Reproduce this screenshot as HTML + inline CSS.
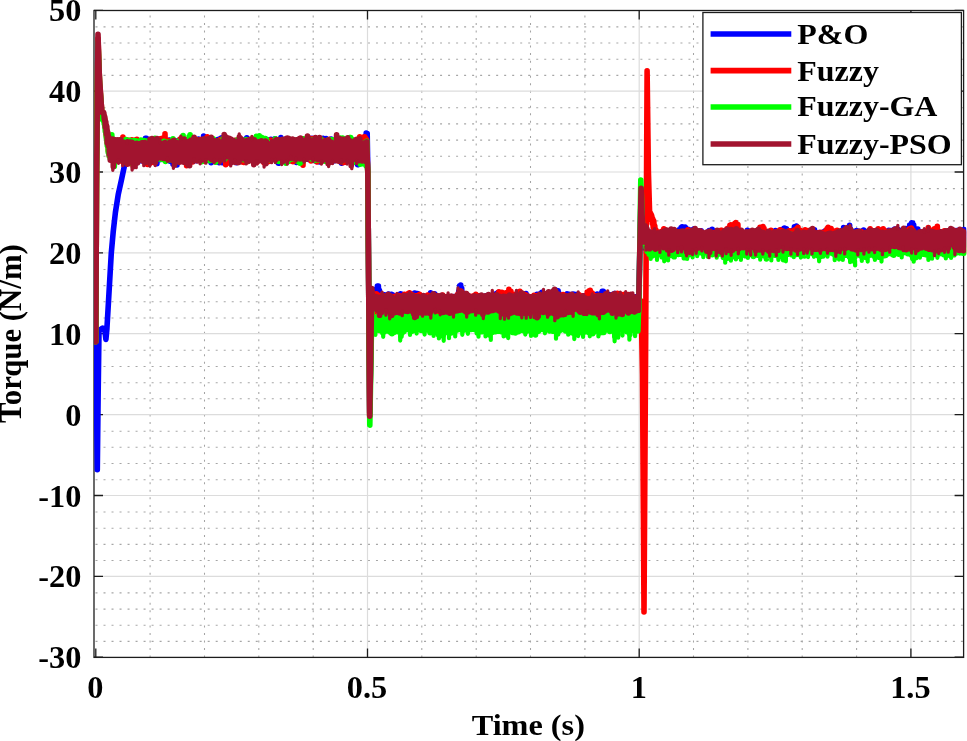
<!DOCTYPE html>
<html lang="en"><head><meta charset="utf-8"><title>Torque</title>
<style>html,body{margin:0;padding:0;background:#fff}svg{display:block}text{font-family:"Liberation Serif","Times New Roman",serif;font-weight:bold;font-size:29.7px;fill:#000}</style></head>
<body>
<svg width="967" height="741" viewBox="0 0 967 741">
<rect width="967" height="741" fill="#fff"/>
<g stroke="#a6a6a6" stroke-width="1.1" stroke-dasharray="2 6.013" fill="none">
<line x1="95.5" y1="641.4" x2="963.6" y2="641.4"/>
<line x1="95.5" y1="625.2" x2="963.6" y2="625.2"/>
<line x1="95.5" y1="609.1" x2="963.6" y2="609.1"/>
<line x1="95.5" y1="592.9" x2="963.6" y2="592.9"/>
<line x1="95.5" y1="560.5" x2="963.6" y2="560.5"/>
<line x1="95.5" y1="544.4" x2="963.6" y2="544.4"/>
<line x1="95.5" y1="528.2" x2="963.6" y2="528.2"/>
<line x1="95.5" y1="512.0" x2="963.6" y2="512.0"/>
<line x1="95.5" y1="479.7" x2="963.6" y2="479.7"/>
<line x1="95.5" y1="463.5" x2="963.6" y2="463.5"/>
<line x1="95.5" y1="447.3" x2="963.6" y2="447.3"/>
<line x1="95.5" y1="431.2" x2="963.6" y2="431.2"/>
<line x1="95.5" y1="398.8" x2="963.6" y2="398.8"/>
<line x1="95.5" y1="382.7" x2="963.6" y2="382.7"/>
<line x1="95.5" y1="366.5" x2="963.6" y2="366.5"/>
<line x1="95.5" y1="350.3" x2="963.6" y2="350.3"/>
<line x1="95.5" y1="318.0" x2="963.6" y2="318.0"/>
<line x1="95.5" y1="301.8" x2="963.6" y2="301.8"/>
<line x1="95.5" y1="285.6" x2="963.6" y2="285.6"/>
<line x1="95.5" y1="269.5" x2="963.6" y2="269.5"/>
<line x1="95.5" y1="237.1" x2="963.6" y2="237.1"/>
<line x1="95.5" y1="220.9" x2="963.6" y2="220.9"/>
<line x1="95.5" y1="204.8" x2="963.6" y2="204.8"/>
<line x1="95.5" y1="188.6" x2="963.6" y2="188.6"/>
<line x1="95.5" y1="156.2" x2="963.6" y2="156.2"/>
<line x1="95.5" y1="140.1" x2="963.6" y2="140.1"/>
<line x1="95.5" y1="123.9" x2="963.6" y2="123.9"/>
<line x1="95.5" y1="107.7" x2="963.6" y2="107.7"/>
<line x1="95.5" y1="75.4" x2="963.6" y2="75.4"/>
<line x1="95.5" y1="59.2" x2="963.6" y2="59.2"/>
<line x1="95.5" y1="43.0" x2="963.6" y2="43.0"/>
<line x1="95.5" y1="26.9" x2="963.6" y2="26.9"/>
</g>
<g stroke="#a4a4a4" stroke-width="1.05" stroke-dasharray="2 5.53" fill="none">
<line x1="150.1" y1="657.5" x2="150.1" y2="10.5"/>
<line x1="204.5" y1="657.5" x2="204.5" y2="10.5"/>
<line x1="258.8" y1="657.5" x2="258.8" y2="10.5"/>
<line x1="313.2" y1="657.5" x2="313.2" y2="10.5"/>
<line x1="421.8" y1="657.5" x2="421.8" y2="10.5"/>
<line x1="476.2" y1="657.5" x2="476.2" y2="10.5"/>
<line x1="530.5" y1="657.5" x2="530.5" y2="10.5"/>
<line x1="584.9" y1="657.5" x2="584.9" y2="10.5"/>
<line x1="693.5" y1="657.5" x2="693.5" y2="10.5"/>
<line x1="747.9" y1="657.5" x2="747.9" y2="10.5"/>
<line x1="802.2" y1="657.5" x2="802.2" y2="10.5"/>
<line x1="856.6" y1="657.5" x2="856.6" y2="10.5"/>
</g>
<g stroke="#dcdcdc" stroke-width="1.2" fill="none">
<line x1="94.0" y1="576.3" x2="963.6" y2="576.3"/>
<line x1="94.0" y1="495.5" x2="963.6" y2="495.5"/>
<line x1="94.0" y1="414.6" x2="963.6" y2="414.6"/>
<line x1="94.0" y1="333.7" x2="963.6" y2="333.7"/>
<line x1="94.0" y1="252.9" x2="963.6" y2="252.9"/>
<line x1="94.0" y1="172.0" x2="963.6" y2="172.0"/>
<line x1="94.0" y1="91.2" x2="963.6" y2="91.2"/>
<line x1="367.5" y1="10.5" x2="367.5" y2="657.4"/>
<line x1="639.2" y1="10.5" x2="639.2" y2="657.4"/>
<line x1="910.9" y1="10.5" x2="910.9" y2="657.4"/>
</g>
<g stroke="#1c1c1c" stroke-width="1.3" fill="none">
<rect x="94.0" y="10.5" width="869.6" height="646.9"/>
<path d="M95.8 657.4 v-9 M95.8 10.5 v9"/><path d="M367.5 657.4 v-9 M367.5 10.5 v9"/><path d="M639.2 657.4 v-9 M639.2 10.5 v9"/><path d="M910.9 657.4 v-9 M910.9 10.5 v9"/><path d="M94.0 657.2 h9 M963.6 657.2 h-9"/><path d="M94.0 576.3 h9 M963.6 576.3 h-9"/><path d="M94.0 495.5 h9 M963.6 495.5 h-9"/><path d="M94.0 414.6 h9 M963.6 414.6 h-9"/><path d="M94.0 333.7 h9 M963.6 333.7 h-9"/><path d="M94.0 252.9 h9 M963.6 252.9 h-9"/><path d="M94.0 172.0 h9 M963.6 172.0 h-9"/><path d="M94.0 91.2 h9 M963.6 91.2 h-9"/><path d="M94.0 10.3 h9 M963.6 10.3 h-9"/>
</g>
<clipPath id="c"><rect x="94.0" y="10.5" width="872.4" height="646.9"/></clipPath>
<g clip-path="url(#c)" fill="none" stroke-width="5.6" stroke-linejoin="round" stroke-linecap="round">
<polyline stroke="#0000ff" points="95.8,341.8 96.5,398.4 97.3,469.6 98.1,398.4 99.0,330.5 102.6,328.1 104.8,329.7 105.9,339.4 106.9,328.9 108.5,301.4 111.3,252.9 113.2,231.9 115.4,212.5 118.2,194.7 121.4,180.1 125.0,163.1 127.3,154.2 127.3,141.0 127.8,155.7 128.3,142.1 128.8,156.3 129.3,140.8 129.8,155.9 130.3,141.2 130.8,160.0 131.3,141.4 131.8,155.1 132.3,142.8 132.8,158.7 133.3,145.8 133.8,159.1 134.3,145.6 134.8,162.6 135.3,147.1 135.8,163.3 136.4,145.4 136.9,158.7 137.4,146.5 137.9,161.8 138.4,147.6 138.9,160.8 139.4,144.9 139.9,159.5 140.4,144.6 140.9,159.9 141.4,144.9 141.9,160.8 142.4,141.6 142.9,153.7 143.4,143.8 143.9,152.9 144.4,141.8 144.9,150.6 145.4,138.2 145.9,153.1 146.4,138.2 146.9,154.7 147.4,141.6 147.9,156.4 148.4,139.3 148.9,154.2 149.4,140.3 149.9,157.5 150.4,142.3 150.9,160.4 151.4,144.4 151.9,160.9 152.4,142.3 152.9,158.6 153.4,140.5 153.9,161.3 154.4,142.0 154.9,158.1 155.4,143.2 155.9,157.3 156.4,141.4 156.9,163.7 157.4,141.4 157.9,159.1 158.4,145.9 158.9,160.0 159.4,143.7 159.9,159.0 160.4,144.2 160.9,159.4 161.4,139.7 161.9,155.3 162.5,140.5 163.0,155.0 163.5,140.3 164.0,156.5 164.5,139.9 165.0,156.8 165.5,140.4 166.0,159.8 166.5,141.2 167.0,157.0 167.5,141.1 168.0,158.2 168.5,142.5 169.0,160.2 169.5,140.1 170.0,161.2 170.5,141.6 171.0,158.4 171.5,141.0 172.0,159.8 172.5,141.5 173.0,164.1 173.5,144.4 174.0,157.6 174.5,142.6 175.0,158.0 175.5,140.7 176.0,161.1 176.5,141.2 177.0,165.0 177.5,141.5 178.0,159.6 178.5,141.6 179.0,158.6 179.5,139.8 180.0,158.8 180.5,140.4 181.0,159.6 181.5,140.7 182.0,159.3 182.5,140.4 183.0,160.5 183.5,142.5 184.0,161.5 184.5,140.2 185.0,160.1 185.5,143.7 186.0,160.4 186.5,144.1 187.0,159.8 187.5,142.7 188.0,160.0 188.5,143.4 189.1,157.8 189.6,141.3 190.1,155.7 190.6,141.9 191.1,158.9 191.6,139.9 192.1,155.3 192.6,139.8 193.1,159.0 193.6,143.2 194.1,159.8 194.6,140.4 195.1,160.1 195.6,142.7 196.1,160.6 196.6,141.8 197.1,157.3 197.6,139.8 198.1,155.1 198.6,139.0 199.1,157.9 199.6,140.3 200.1,158.4 200.6,140.8 201.1,158.4 201.6,139.5 202.1,155.8 202.6,140.4 203.1,153.0 203.6,136.1 204.1,155.9 204.6,138.5 205.1,158.1 205.6,139.7 206.1,158.2 206.6,142.2 207.1,157.6 207.6,143.4 208.1,160.3 208.6,141.7 209.1,158.3 209.6,142.0 210.1,158.7 210.6,144.5 211.1,162.7 211.6,143.1 212.1,159.3 212.6,142.8 213.1,158.7 213.6,143.7 214.1,159.6 214.6,145.0 215.2,158.8 215.7,142.4 216.2,161.7 216.7,141.6 217.2,160.9 217.7,139.6 218.2,160.0 218.7,139.5 219.2,162.7 219.7,142.6 220.2,160.4 220.7,138.3 221.2,160.4 221.7,137.9 222.2,162.7 222.7,137.5 223.2,162.6 223.7,139.2 224.2,160.3 224.7,142.9 225.2,160.7 225.7,138.9 226.2,158.2 226.7,138.3 227.2,158.0 227.7,144.8 228.2,157.1 228.7,145.5 229.2,159.6 229.7,145.4 230.2,160.0 230.7,145.9 231.2,156.6 231.7,146.5 232.2,156.7 232.7,142.3 233.2,155.4 233.7,145.9 234.2,157.3 234.7,144.7 235.2,154.6 235.7,147.1 236.2,162.7 236.7,144.7 237.2,159.5 237.7,145.6 238.2,157.5 238.7,148.2 239.2,157.9 239.7,146.9 240.2,159.2 240.7,141.5 241.2,159.7 241.8,140.0 242.3,157.1 242.8,140.5 243.3,155.8 243.8,141.6 244.3,158.9 244.8,141.3 245.3,153.3 245.8,139.3 246.3,156.5 246.8,137.8 247.3,155.9 247.8,139.6 248.3,159.0 248.8,144.5 249.3,158.6 249.8,147.2 250.3,159.3 250.8,143.3 251.3,159.8 251.8,143.3 252.3,159.5 252.8,140.8 253.3,157.8 253.8,143.7 254.3,159.7 254.8,143.6 255.3,157.5 255.8,140.9 256.3,155.4 256.8,141.5 257.3,159.6 257.8,141.4 258.3,156.3 258.8,142.4 259.3,157.2 259.8,143.2 260.3,157.5 260.8,140.1 261.3,155.8 261.8,142.3 262.3,156.5 262.8,144.3 263.3,156.7 263.8,144.0 264.3,156.0 264.8,141.2 265.3,153.1 265.8,139.5 266.3,154.7 266.8,139.5 267.3,158.2 267.9,140.9 268.4,156.0 268.9,142.5 269.4,157.3 269.9,142.3 270.4,158.9 270.9,139.2 271.4,158.2 271.9,142.4 272.4,158.2 272.9,141.9 273.4,159.1 273.9,143.5 274.4,158.8 274.9,138.9 275.4,159.0 275.9,140.7 276.4,158.3 276.9,142.6 277.4,160.1 277.9,140.8 278.4,163.3 278.9,145.4 279.4,162.0 279.9,143.7 280.4,160.1 280.9,137.5 281.4,157.1 281.9,142.0 282.4,158.7 282.9,142.7 283.4,156.2 283.9,143.1 284.4,158.2 284.9,142.9 285.4,159.9 285.9,140.1 286.4,159.2 286.9,142.2 287.4,155.5 287.9,142.6 288.4,160.1 288.9,144.8 289.4,159.0 289.9,145.5 290.4,158.3 290.9,144.6 291.4,159.0 291.9,144.3 292.4,157.9 292.9,142.9 293.4,158.3 294.0,140.9 294.5,160.6 295.0,141.1 295.5,161.6 296.0,142.9 296.5,162.4 297.0,148.3 297.5,161.4 298.0,146.1 298.5,159.3 299.0,140.9 299.5,159.3 300.0,142.4 300.5,158.1 301.0,141.3 301.5,154.8 302.0,140.6 302.5,157.5 303.0,141.0 303.5,160.8 304.0,140.9 304.5,157.3 305.0,140.8 305.5,157.6 306.0,139.6 306.5,154.8 307.0,142.2 307.5,156.9 308.0,146.2 308.5,159.4 309.0,143.1 309.5,158.9 310.0,140.3 310.5,158.6 311.0,141.3 311.5,159.0 312.0,138.4 312.5,155.5 313.0,139.2 313.5,159.0 314.0,141.9 314.5,157.9 315.0,143.0 315.5,161.0 316.0,141.7 316.5,161.5 317.0,139.4 317.5,160.5 318.0,141.1 318.5,159.7 319.0,142.2 319.5,162.0 320.0,145.7 320.6,160.9 321.1,145.0 321.6,157.7 322.1,142.6 322.6,158.1 323.1,138.3 323.6,160.2 324.1,140.0 324.6,159.2 325.1,140.1 325.6,152.5 326.1,138.6 326.6,155.2 327.1,139.9 327.6,156.7 328.1,144.4 328.6,158.9 329.1,140.5 329.6,157.8 330.1,140.6 330.6,156.4 331.1,139.1 331.6,159.4 332.1,143.1 332.6,161.3 333.1,141.3 333.6,157.4 334.1,141.8 334.6,160.7 335.1,142.4 335.6,157.8 336.1,144.7 336.6,158.7 337.1,141.7 337.6,159.8 338.1,142.0 338.6,159.5 339.1,146.6 339.6,160.4 340.1,143.0 340.6,160.1 341.1,144.4 341.6,163.1 342.1,144.2 342.6,160.2 343.1,143.0 343.6,159.9 344.1,142.0 344.6,158.1 345.1,146.2 345.6,158.5 346.1,141.1 346.7,157.0 347.2,143.4 347.7,159.3 348.2,140.5 348.7,157.5 349.2,141.7 349.7,159.4 350.2,139.8 350.7,159.2 351.2,141.2 351.7,157.1 352.2,140.8 352.7,159.7 353.2,140.3 353.7,157.1 354.2,144.1 354.7,162.5 355.2,142.7 355.7,161.2 356.2,143.1 356.7,159.3 357.2,142.3 357.7,164.8 358.2,146.3 358.7,156.9 359.2,145.0 359.7,158.1 360.2,140.9 360.7,158.7 361.2,141.5 361.7,157.8 362.2,142.9 362.7,160.3 363.2,143.0 363.7,161.2 364.2,139.4 364.7,155.7 365.2,136.3 365.7,155.7 366.2,133.1 366.7,152.3 367.2,133.6 367.8,172.0 369.7,413.0 371.8,293.3 372.4,298.7 372.9,310.8 373.4,295.9 373.9,309.8 374.4,294.9 374.9,308.4 375.4,292.2 375.9,307.7 376.4,288.8 376.9,305.1 377.4,286.0 377.9,303.8 378.4,286.0 378.9,305.6 379.4,290.2 379.9,308.0 380.4,293.6 380.9,310.3 381.4,295.4 381.9,310.4 382.4,295.8 382.9,310.3 383.4,296.8 383.9,311.3 384.4,294.8 384.9,308.4 385.4,295.6 385.9,311.8 386.4,296.4 386.9,312.7 387.4,294.8 387.9,309.2 388.5,294.0 389.0,311.3 389.5,296.3 390.0,311.1 390.5,296.6 391.0,311.0 391.5,294.2 392.0,310.4 392.5,294.8 393.0,310.2 393.5,297.9 394.0,311.2 394.5,298.5 395.0,312.4 395.5,297.8 396.0,313.7 396.5,296.6 397.0,312.0 397.5,296.0 398.0,312.9 398.5,297.1 399.0,311.2 399.5,295.3 400.0,311.7 400.5,293.8 401.0,312.1 401.5,294.1 402.0,311.2 402.5,295.9 403.0,311.5 403.5,296.3 404.0,312.3 404.5,297.2 405.0,312.3 405.5,295.7 406.0,311.1 406.5,297.5 407.0,311.1 407.5,298.6 408.0,314.7 408.5,297.4 409.0,313.5 409.5,294.7 410.0,313.1 410.5,294.4 411.0,310.2 411.5,295.2 412.0,308.7 412.5,294.1 413.0,306.6 413.5,293.9 414.0,307.5 414.5,293.1 415.1,307.5 415.6,293.3 416.1,307.8 416.6,293.9 417.1,312.9 417.6,293.6 418.1,308.1 418.6,295.7 419.1,306.1 419.6,296.3 420.1,308.5 420.6,295.6 421.1,309.8 421.6,298.1 422.1,308.1 422.6,295.9 423.1,312.1 423.6,296.5 424.1,306.5 424.6,297.2 425.1,311.0 425.6,297.0 426.1,308.2 426.6,296.4 427.1,308.6 427.6,296.9 428.1,310.2 428.6,295.6 429.1,308.7 429.6,294.8 430.1,310.0 430.6,292.8 431.1,311.2 431.6,294.2 432.1,310.8 432.6,294.8 433.1,307.8 433.6,296.0 434.1,307.0 434.6,293.8 435.1,308.4 435.6,295.7 436.1,306.2 436.6,297.3 437.1,307.3 437.6,296.5 438.1,308.8 438.6,297.3 439.1,306.9 439.6,296.2 440.1,310.2 440.6,298.3 441.1,310.3 441.6,297.7 442.2,310.9 442.7,300.8 443.2,311.0 443.7,300.5 444.2,311.5 444.7,297.6 445.2,309.3 445.7,298.6 446.2,311.7 446.7,299.0 447.2,310.6 447.7,298.6 448.2,308.6 448.7,301.3 449.2,309.0 449.7,300.1 450.2,309.5 450.7,297.4 451.2,312.5 451.7,297.3 452.2,312.4 452.7,297.4 453.2,313.8 453.7,296.5 454.2,310.6 454.7,298.5 455.2,310.4 455.7,298.2 456.2,310.3 456.7,296.7 457.2,309.6 457.7,297.2 458.2,306.8 458.7,291.4 459.2,303.8 459.7,285.7 460.2,302.6 460.7,285.0 461.2,301.0 461.7,288.4 462.2,302.5 462.7,294.2 463.2,306.0 463.7,296.6 464.2,310.2 464.7,297.1 465.2,309.3 465.7,297.4 466.2,309.3 466.7,300.3 467.2,309.5 467.7,298.4 468.2,313.5 468.8,298.6 469.3,313.2 469.8,298.0 470.3,313.6 470.8,297.3 471.3,311.0 471.8,297.5 472.3,312.1 472.8,298.1 473.3,314.3 473.8,298.0 474.3,313.5 474.8,298.0 475.3,312.5 475.8,298.1 476.3,309.1 476.8,299.5 477.3,312.6 477.8,298.5 478.3,313.8 478.8,300.4 479.3,312.8 479.8,299.1 480.3,312.4 480.8,298.7 481.3,312.6 481.8,298.6 482.3,310.9 482.8,301.0 483.3,308.0 483.8,298.3 484.3,309.9 484.8,298.8 485.3,311.1 485.8,295.8 486.3,310.5 486.8,295.5 487.3,309.7 487.8,295.9 488.3,308.3 488.8,297.9 489.3,309.9 489.8,298.3 490.3,311.3 490.8,297.3 491.3,312.2 491.8,298.8 492.3,310.9 492.8,297.3 493.3,309.8 493.8,295.6 494.3,309.0 494.8,295.2 495.4,308.5 495.9,293.9 496.4,306.5 496.9,293.2 497.4,308.9 497.9,292.5 498.4,308.9 498.9,295.6 499.4,310.5 499.9,295.3 500.4,311.8 500.9,296.2 501.4,309.9 501.9,295.0 502.4,307.8 502.9,299.2 503.4,311.0 503.9,296.9 504.4,310.5 504.9,297.7 505.4,307.7 505.9,298.1 506.4,308.6 506.9,296.9 507.4,312.2 507.9,299.1 508.4,311.1 508.9,300.0 509.4,306.7 509.9,297.2 510.4,310.4 510.9,295.1 511.4,309.9 511.9,297.0 512.4,312.9 512.9,294.7 513.4,310.4 513.9,298.0 514.4,312.3 514.9,297.9 515.4,312.7 515.9,298.6 516.4,312.0 516.9,297.5 517.4,311.8 517.9,297.1 518.4,312.0 518.9,298.3 519.4,310.5 519.9,297.0 520.4,310.0 520.9,298.8 521.4,311.5 521.9,303.0 522.5,311.1 523.0,301.2 523.5,311.4 524.0,296.7 524.5,311.7 525.0,295.2 525.5,310.8 526.0,293.6 526.5,311.0 527.0,295.6 527.5,308.8 528.0,297.4 528.5,314.7 529.0,296.5 529.5,312.4 530.0,296.9 530.5,312.8 531.0,298.5 531.5,309.4 532.0,298.4 532.5,309.6 533.0,296.7 533.5,311.5 534.0,298.0 534.5,310.2 535.0,297.4 535.5,311.0 536.0,296.7 536.5,310.2 537.0,294.2 537.5,310.7 538.0,296.1 538.5,308.0 539.0,297.8 539.5,311.4 540.0,294.2 540.5,304.0 541.0,293.1 541.5,303.3 542.0,292.2 542.5,304.8 543.0,295.4 543.5,307.9 544.0,296.7 544.5,308.3 545.0,297.3 545.5,310.8 546.0,299.5 546.5,312.0 547.0,299.1 547.5,309.8 548.0,297.4 548.5,309.6 549.1,298.0 549.6,309.9 550.1,298.4 550.6,314.7 551.1,297.6 551.6,309.5 552.1,297.2 552.6,310.5 553.1,297.2 553.6,309.1 554.1,294.1 554.6,308.3 555.1,292.1 555.6,304.1 556.1,290.2 556.6,306.0 557.1,292.3 557.6,303.2 558.1,290.9 558.6,306.8 559.1,293.5 559.6,309.6 560.1,295.1 560.6,309.2 561.1,295.5 561.6,306.6 562.1,296.0 562.6,307.7 563.1,298.2 563.6,307.8 564.1,297.2 564.6,305.5 565.1,297.5 565.6,302.2 566.1,294.8 566.6,306.0 567.1,293.9 567.6,305.5 568.1,294.6 568.6,308.2 569.1,294.2 569.6,310.8 570.1,295.4 570.6,312.1 571.1,296.9 571.6,310.8 572.1,295.1 572.6,312.3 573.1,294.0 573.6,313.0 574.1,297.0 574.6,312.9 575.1,294.5 575.7,310.9 576.2,294.5 576.7,312.4 577.2,296.8 577.7,306.6 578.2,294.7 578.7,308.2 579.2,295.4 579.7,307.6 580.2,298.9 580.7,307.2 581.2,297.4 581.7,310.3 582.2,297.5 582.7,308.4 583.2,296.6 583.7,310.9 584.2,295.8 584.7,311.1 585.2,297.0 585.7,308.8 586.2,296.1 586.7,309.7 587.2,295.7 587.7,310.7 588.2,297.5 588.7,312.7 589.2,298.7 589.7,312.9 590.2,296.2 590.7,312.3 591.2,296.0 591.7,311.5 592.2,294.9 592.7,307.9 593.2,298.8 593.7,309.8 594.2,296.8 594.7,310.5 595.2,297.6 595.7,310.0 596.2,294.6 596.7,311.9 597.2,294.1 597.7,309.5 598.2,297.1 598.7,311.3 599.2,294.7 599.7,308.2 600.2,294.7 600.7,310.4 601.2,293.4 601.7,307.5 602.2,291.2 602.8,307.0 603.3,291.4 603.8,307.6 604.3,294.0 604.8,307.2 605.3,293.2 605.8,307.5 606.3,293.7 606.8,308.6 607.3,297.7 607.8,308.2 608.3,296.1 608.8,309.6 609.3,294.5 609.8,308.5 610.3,294.9 610.8,312.0 611.3,296.7 611.8,311.8 612.3,296.9 612.8,311.2 613.3,294.9 613.8,312.2 614.3,293.5 614.8,308.3 615.3,293.5 615.8,311.6 616.3,294.8 616.8,311.7 617.3,298.5 617.8,312.2 618.3,299.5 618.8,313.5 619.3,299.1 619.8,312.9 620.3,298.1 620.8,312.2 621.3,298.4 621.8,309.9 622.3,298.8 622.8,311.5 623.3,296.2 623.8,313.1 624.3,297.8 624.8,309.9 625.3,298.9 625.8,308.2 626.3,299.5 626.8,308.0 627.3,296.8 627.8,310.4 628.3,297.1 628.8,310.8 629.4,300.3 629.9,309.6 630.4,297.6 630.9,309.5 631.4,298.7 631.9,309.9 632.4,298.0 632.9,309.8 633.4,297.0 633.9,310.8 634.4,297.2 634.9,311.0 635.4,298.6 635.9,310.1 636.4,296.6 636.9,307.4 637.4,296.8 637.9,311.1 638.4,296.4 638.9,293.3 641.1,193.9 642.7,231.9 643.0,233.9 643.5,247.7 644.0,234.4 644.5,248.2 645.0,233.5 645.5,248.1 646.0,235.6 646.5,252.9 647.0,232.8 647.5,249.4 648.0,232.6 648.5,244.3 649.0,235.0 649.5,247.0 650.0,232.0 650.5,245.2 651.0,232.5 651.5,246.1 652.0,234.3 652.5,246.3 653.0,235.0 653.5,248.6 654.0,233.2 654.5,248.5 655.0,230.9 655.5,251.0 656.0,232.1 656.5,246.3 657.0,233.0 657.5,248.2 658.0,233.1 658.5,249.9 659.0,235.5 659.5,248.7 660.1,233.3 660.6,247.2 661.1,234.9 661.6,248.4 662.1,232.3 662.6,251.0 663.1,233.6 663.6,248.9 664.1,236.9 664.6,245.1 665.1,235.3 665.6,244.2 666.1,235.8 666.6,247.5 667.1,235.6 667.6,247.8 668.1,235.3 668.6,244.1 669.1,235.6 669.6,250.2 670.1,237.4 670.6,247.1 671.1,235.6 671.6,247.0 672.1,234.0 672.6,248.4 673.1,231.9 673.6,248.0 674.1,231.9 674.6,247.6 675.1,234.4 675.6,246.8 676.1,234.0 676.6,248.0 677.1,233.9 677.6,250.1 678.1,233.0 678.6,244.4 679.1,229.8 679.6,245.4 680.1,229.3 680.6,246.7 681.1,227.5 681.6,244.6 682.1,226.8 682.6,246.4 683.1,227.9 683.6,242.9 684.1,230.0 684.6,243.3 685.1,227.0 685.6,242.5 686.1,228.4 686.6,241.8 687.1,231.7 687.6,241.9 688.1,229.4 688.6,245.9 689.1,232.5 689.6,247.9 690.1,231.2 690.6,245.3 691.1,231.3 691.6,245.7 692.1,229.9 692.6,244.1 693.1,232.2 693.6,246.6 694.1,228.9 694.6,244.1 695.1,231.4 695.6,246.8 696.1,231.0 696.7,247.4 697.2,230.8 697.7,247.6 698.2,233.3 698.7,248.1 699.2,233.1 699.7,247.2 700.2,233.8 700.7,245.2 701.2,230.8 701.7,245.8 702.2,234.5 702.7,245.9 703.2,234.3 703.7,243.0 704.2,235.1 704.7,247.8 705.2,233.9 705.7,247.2 706.2,236.0 706.7,245.7 707.2,233.2 707.7,247.5 708.2,231.6 708.7,247.2 709.2,230.6 709.7,244.8 710.2,231.1 710.7,243.3 711.2,230.4 711.7,248.7 712.2,229.4 712.7,244.5 713.2,230.7 713.7,248.0 714.2,231.1 714.7,247.6 715.2,232.1 715.7,247.5 716.2,232.2 716.7,247.4 717.2,231.2 717.7,249.6 718.2,231.7 718.7,247.8 719.2,231.7 719.7,246.9 720.2,233.0 720.7,245.9 721.2,235.2 721.7,248.1 722.2,235.9 722.7,247.6 723.2,232.7 723.7,247.9 724.2,231.9 724.7,247.4 725.2,234.3 725.7,246.5 726.2,232.2 726.7,247.6 727.2,235.0 727.7,248.1 728.2,235.4 728.7,247.6 729.2,234.1 729.7,249.5 730.2,232.9 730.7,249.5 731.2,231.1 731.7,245.6 732.2,230.4 732.7,247.9 733.3,232.9 733.8,246.9 734.3,233.7 734.8,245.8 735.3,235.5 735.8,247.9 736.3,230.6 736.8,245.4 737.3,231.0 737.8,244.8 738.3,234.4 738.8,245.3 739.3,233.5 739.8,246.7 740.3,232.7 740.8,246.4 741.3,233.9 741.8,246.2 742.3,233.3 742.8,244.1 743.3,235.1 743.8,248.5 744.3,233.2 744.8,247.0 745.3,233.9 745.8,253.1 746.3,234.7 746.8,253.7 747.3,230.4 747.8,248.5 748.3,230.7 748.8,248.8 749.3,233.3 749.8,250.5 750.3,236.7 750.8,249.5 751.3,234.1 751.8,248.3 752.3,235.0 752.8,250.2 753.3,232.6 753.8,249.2 754.3,234.4 754.8,252.4 755.3,237.2 755.8,249.7 756.3,235.8 756.8,251.9 757.3,233.2 757.8,249.4 758.3,233.0 758.8,245.5 759.3,234.3 759.8,250.3 760.3,233.7 760.8,246.8 761.3,233.0 761.8,249.7 762.3,233.5 762.8,250.9 763.3,232.3 763.8,247.2 764.3,236.1 764.8,247.1 765.3,235.7 765.8,248.3 766.3,234.6 766.8,247.1 767.3,233.6 767.8,246.9 768.3,236.9 768.8,247.5 769.3,236.7 769.9,247.5 770.4,233.9 770.9,248.5 771.4,235.4 771.9,248.8 772.4,235.4 772.9,251.8 773.4,232.4 773.9,252.8 774.4,231.4 774.9,247.4 775.4,230.5 775.9,244.2 776.4,234.0 776.9,248.2 777.4,231.8 777.9,249.0 778.4,231.3 778.9,247.4 779.4,232.5 779.9,248.7 780.4,231.4 780.9,244.4 781.4,229.5 781.9,244.0 782.4,230.7 782.9,243.8 783.4,229.5 783.9,245.6 784.4,228.1 784.9,245.4 785.4,229.3 785.9,245.3 786.4,228.7 786.9,246.8 787.4,230.2 787.9,244.8 788.4,232.8 788.9,243.7 789.4,234.8 789.9,242.8 790.4,233.8 790.9,244.0 791.4,230.9 791.9,244.9 792.4,231.3 792.9,243.7 793.4,229.7 793.9,240.3 794.4,226.8 794.9,242.4 795.4,227.8 795.9,243.4 796.4,226.1 796.9,243.7 797.4,229.1 797.9,242.8 798.4,230.9 798.9,245.8 799.4,232.3 799.9,247.1 800.4,234.1 800.9,247.3 801.4,232.0 801.9,248.1 802.4,233.7 802.9,251.1 803.4,234.2 803.9,247.8 804.4,234.5 804.9,247.3 805.4,233.6 805.9,249.5 806.5,237.1 807.0,248.2 807.5,234.9 808.0,247.1 808.5,233.6 809.0,246.9 809.5,231.6 810.0,245.4 810.5,233.0 811.0,246.3 811.5,234.9 812.0,245.4 812.5,233.7 813.0,248.4 813.5,232.3 814.0,249.5 814.5,229.8 815.0,248.8 815.5,233.1 816.0,245.6 816.5,236.7 817.0,248.0 817.5,234.8 818.0,250.7 818.5,234.1 819.0,248.8 819.5,232.6 820.0,246.8 820.5,233.9 821.0,247.9 821.5,234.3 822.0,246.5 822.5,233.1 823.0,248.0 823.5,233.2 824.0,248.6 824.5,231.3 825.0,245.4 825.5,230.7 826.0,245.7 826.5,232.1 827.0,244.6 827.5,231.1 828.0,244.0 828.5,232.0 829.0,246.7 829.5,232.7 830.0,248.9 830.5,231.0 831.0,249.3 831.5,232.0 832.0,247.5 832.5,235.2 833.0,250.3 833.5,232.8 834.0,246.5 834.5,232.3 835.0,246.7 835.5,234.1 836.0,246.1 836.5,232.9 837.0,248.4 837.5,232.4 838.0,247.4 838.5,232.7 839.0,247.8 839.5,235.5 840.0,247.5 840.5,233.0 841.0,244.8 841.5,233.0 842.0,246.5 842.5,230.7 843.1,250.3 843.6,227.6 844.1,247.9 844.6,230.0 845.1,246.2 845.6,231.4 846.1,244.3 846.6,231.1 847.1,247.3 847.6,230.2 848.1,243.5 848.6,231.8 849.1,243.2 849.6,225.2 850.1,247.0 850.6,229.5 851.1,243.4 851.6,231.1 852.1,244.3 852.6,231.3 853.1,241.9 853.6,231.9 854.1,242.7 854.6,234.3 855.1,244.8 855.6,231.0 856.1,246.7 856.6,230.6 857.1,248.3 857.6,233.1 858.1,246.3 858.6,231.2 859.1,249.6 859.6,232.7 860.1,251.7 860.6,231.6 861.1,246.8 861.6,236.6 862.1,247.2 862.6,233.9 863.1,247.5 863.6,230.0 864.1,249.6 864.6,232.0 865.1,247.9 865.6,231.6 866.1,245.8 866.6,231.8 867.1,248.2 867.6,234.2 868.1,245.9 868.6,230.8 869.1,245.8 869.6,232.2 870.1,247.7 870.6,231.5 871.1,248.1 871.6,231.3 872.1,249.4 872.6,231.0 873.1,249.2 873.6,232.4 874.1,246.3 874.6,234.2 875.1,245.8 875.6,233.0 876.1,246.5 876.6,232.7 877.1,245.7 877.6,231.8 878.1,244.5 878.6,233.6 879.1,245.8 879.7,231.5 880.2,246.6 880.7,232.1 881.2,244.1 881.7,235.2 882.2,246.7 882.7,233.3 883.2,247.3 883.7,231.8 884.2,248.2 884.7,231.4 885.2,246.8 885.7,233.5 886.2,250.1 886.7,234.9 887.2,247.8 887.7,231.0 888.2,248.4 888.7,230.4 889.2,245.3 889.7,230.9 890.2,247.4 890.7,230.6 891.2,244.5 891.7,230.7 892.2,246.6 892.7,231.3 893.2,246.0 893.7,229.7 894.2,247.9 894.7,229.1 895.2,248.5 895.7,231.7 896.2,249.2 896.7,230.6 897.2,249.0 897.7,229.4 898.2,248.2 898.7,229.7 899.2,244.5 899.7,231.6 900.2,245.8 900.7,231.5 901.2,245.9 901.7,233.2 902.2,244.4 902.7,231.9 903.2,246.5 903.7,230.8 904.2,244.8 904.7,229.4 905.2,246.9 905.7,228.6 906.2,245.8 906.7,231.7 907.2,245.4 907.7,229.2 908.2,241.5 908.7,228.4 909.2,243.3 909.7,225.0 910.2,240.4 910.7,225.3 911.2,238.3 911.7,222.9 912.2,239.7 912.7,223.1 913.2,242.7 913.7,225.1 914.2,244.4 914.7,228.3 915.2,246.7 915.7,231.2 916.3,246.9 916.8,231.0 917.3,248.5 917.8,229.0 918.3,244.7 918.8,231.2 919.3,247.1 919.8,234.5 920.3,243.6 920.8,233.3 921.3,247.4 921.8,233.7 922.3,244.8 922.8,233.7 923.3,243.7 923.8,233.1 924.3,247.6 924.8,233.1 925.3,249.9 925.8,233.3 926.3,247.6 926.8,231.6 927.3,248.9 927.8,230.4 928.3,247.7 928.8,233.0 929.3,244.1 929.8,231.6 930.3,244.4 930.8,233.3 931.3,246.6 931.8,232.0 932.3,244.6 932.8,231.4 933.3,248.2 933.8,233.6 934.3,247.9 934.8,233.4 935.3,247.5 935.8,229.9 936.3,245.2 936.8,234.1 937.3,248.7 937.8,233.5 938.3,248.5 938.8,232.8 939.3,248.8 939.8,233.3 940.3,247.4 940.8,231.8 941.3,247.1 941.8,232.6 942.3,245.7 942.8,232.6 943.3,247.0 943.8,234.3 944.3,246.2 944.8,231.7 945.3,246.8 945.8,233.5 946.3,247.2 946.8,232.1 947.3,248.6 947.8,234.8 948.3,248.0 948.8,230.6 949.3,246.8 949.8,230.5 950.3,248.6 950.8,233.3 951.3,250.3 951.8,234.6 952.3,248.7 952.9,234.3 953.4,248.0 953.9,231.3 954.4,245.1 954.9,230.5 955.4,245.5 955.9,234.6 956.4,247.9 956.9,230.5 957.4,246.7 957.9,230.6 958.4,247.1 958.9,231.7 959.4,245.5 959.9,230.3 960.4,247.2 960.9,230.6 961.4,246.3 961.9,231.3 962.4,246.1 962.9,231.4 963.4,246.9 963.9,229.6"/>
<path stroke="#0000ff" stroke-width="3.3" d=""/>
<polyline stroke="#ff0000" points="95.8,341.8 96.6,172.0 98.0,38.6 99.6,83.1 102.3,117.0 103.7,117.0 103.8,115.0 104.3,120.3 104.8,118.8 105.3,126.9 105.8,124.7 106.3,135.8 106.8,129.7 107.3,142.7 107.8,134.4 108.3,150.8 108.8,140.0 109.3,155.8 109.8,142.8 110.3,156.3 110.8,140.4 111.3,156.6 111.8,138.2 112.3,157.9 112.8,139.2 113.3,159.0 113.8,140.4 114.3,159.4 114.8,140.8 115.3,158.5 115.8,144.0 116.3,158.5 116.8,144.2 117.3,160.1 117.8,143.6 118.3,160.3 118.8,143.9 119.3,159.5 119.8,141.5 120.3,158.6 120.8,139.6 121.4,161.1 121.9,143.9 122.4,153.9 122.9,137.0 123.4,161.7 123.9,141.3 124.4,156.6 124.9,140.3 125.4,159.3 125.9,142.1 126.4,156.6 126.9,141.5 127.4,158.0 127.9,140.1 128.4,155.0 128.9,143.9 129.4,159.2 129.9,143.5 130.4,163.8 130.9,141.3 131.4,159.9 131.9,139.7 132.4,157.0 132.9,140.0 133.4,159.3 133.9,140.9 134.4,155.9 134.9,142.1 135.4,158.7 135.9,139.8 136.4,156.0 136.9,139.2 137.4,154.2 137.9,142.5 138.4,155.4 138.9,140.5 139.4,158.0 139.9,143.7 140.4,157.1 140.9,141.2 141.4,154.6 141.9,142.2 142.4,155.7 142.9,143.6 143.4,154.0 143.9,145.7 144.4,159.2 144.9,141.4 145.4,160.0 145.9,142.8 146.4,159.7 146.9,144.4 147.4,164.5 147.9,145.5 148.4,161.2 148.9,145.2 149.5,163.7 150.0,145.1 150.5,162.9 151.0,144.8 151.5,161.7 152.0,144.2 152.5,161.7 153.0,143.5 153.5,159.1 154.0,141.6 154.5,162.7 155.0,141.9 155.5,157.5 156.0,140.7 156.5,157.6 157.0,140.5 157.5,157.5 158.0,141.4 158.5,156.7 159.0,139.7 159.5,156.0 160.0,138.7 160.5,154.3 161.0,141.3 161.5,157.4 162.0,138.4 162.5,156.4 163.0,138.1 163.5,156.8 164.0,139.5 164.5,154.4 165.0,133.8 165.5,156.2 166.0,141.1 166.5,155.5 167.0,140.3 167.5,157.8 168.0,142.2 168.5,154.1 169.0,140.6 169.5,157.7 170.0,143.2 170.5,154.1 171.0,143.5 171.5,156.9 172.0,142.0 172.5,159.2 173.0,143.3 173.5,156.2 174.0,142.5 174.5,158.4 175.0,142.0 175.5,156.4 176.0,143.2 176.5,156.1 177.0,145.0 177.6,159.4 178.1,142.6 178.6,157.0 179.1,143.0 179.6,156.9 180.1,139.1 180.6,157.1 181.1,142.2 181.6,159.0 182.1,141.0 182.6,155.5 183.1,143.7 183.6,158.7 184.1,142.5 184.6,159.0 185.1,140.1 185.6,161.3 186.1,139.8 186.6,165.6 187.1,140.3 187.6,160.1 188.1,143.3 188.6,160.3 189.1,142.9 189.6,157.8 190.1,143.8 190.6,160.9 191.1,146.2 191.6,155.1 192.1,141.8 192.6,161.9 193.1,141.2 193.6,156.2 194.1,141.7 194.6,160.0 195.1,140.1 195.6,160.1 196.1,139.2 196.6,159.3 197.1,140.5 197.6,158.8 198.1,140.5 198.6,155.5 199.1,141.3 199.6,160.0 200.1,142.3 200.6,155.9 201.1,139.5 201.6,158.9 202.1,140.4 202.6,161.1 203.1,141.0 203.6,161.2 204.1,142.5 204.6,161.4 205.1,143.0 205.7,157.8 206.2,140.4 206.7,152.5 207.2,136.8 207.7,156.8 208.2,138.4 208.7,153.0 209.2,139.6 209.7,154.3 210.2,139.9 210.7,154.9 211.2,139.6 211.7,156.0 212.2,144.4 212.7,160.2 213.2,143.2 213.7,157.6 214.2,141.6 214.7,158.1 215.2,142.4 215.7,158.7 216.2,143.9 216.7,160.4 217.2,145.9 217.7,159.7 218.2,144.0 218.7,159.9 219.2,140.3 219.7,160.5 220.2,139.6 220.7,158.9 221.2,143.1 221.7,157.5 222.2,140.1 222.7,157.5 223.2,142.3 223.7,154.9 224.2,142.4 224.7,160.3 225.2,142.2 225.7,164.6 226.2,143.1 226.7,163.8 227.2,142.8 227.7,159.5 228.2,141.6 228.7,160.2 229.2,140.9 229.7,162.7 230.2,143.7 230.7,159.4 231.2,143.4 231.7,155.8 232.2,143.0 232.7,159.7 233.3,142.0 233.8,160.6 234.3,142.1 234.8,159.5 235.3,140.2 235.8,161.2 236.3,140.2 236.8,159.4 237.3,140.1 237.8,156.5 238.3,141.9 238.8,155.9 239.3,145.2 239.8,158.5 240.3,141.5 240.8,158.3 241.3,142.3 241.8,159.3 242.3,141.1 242.8,162.1 243.3,146.0 243.8,162.5 244.3,142.0 244.8,160.8 245.3,142.6 245.8,162.2 246.3,143.2 246.8,161.8 247.3,146.4 247.8,160.0 248.3,139.8 248.8,160.0 249.3,140.1 249.8,160.1 250.3,142.0 250.8,158.7 251.3,142.2 251.8,159.4 252.3,140.0 252.8,160.5 253.3,139.0 253.8,158.2 254.3,141.6 254.8,158.6 255.3,139.4 255.8,159.9 256.3,140.3 256.8,162.3 257.3,139.5 257.8,157.0 258.3,141.7 258.8,159.5 259.3,142.3 259.8,159.4 260.3,142.1 260.8,157.9 261.4,139.4 261.9,160.0 262.4,142.6 262.9,160.2 263.4,143.1 263.9,162.6 264.4,144.2 264.9,161.9 265.4,147.8 265.9,161.3 266.4,146.6 266.9,162.3 267.4,141.8 267.9,160.9 268.4,144.2 268.9,161.5 269.4,144.7 269.9,154.5 270.4,140.0 270.9,158.0 271.4,142.0 271.9,157.2 272.4,143.2 272.9,158.1 273.4,141.3 273.9,155.3 274.4,139.8 274.9,159.5 275.4,140.3 275.9,158.3 276.4,140.1 276.9,157.4 277.4,142.6 277.9,156.4 278.4,141.5 278.9,158.1 279.4,143.9 279.9,158.4 280.4,145.3 280.9,157.9 281.4,142.4 281.9,156.4 282.4,145.9 282.9,155.4 283.4,144.6 283.9,158.3 284.4,142.5 284.9,157.6 285.4,143.6 285.9,157.8 286.4,142.9 286.9,159.4 287.4,142.9 287.9,156.6 288.4,141.9 288.9,159.1 289.5,141.3 290.0,160.9 290.5,141.6 291.0,160.9 291.5,144.6 292.0,159.6 292.5,140.6 293.0,161.6 293.5,144.2 294.0,160.8 294.5,143.0 295.0,160.4 295.5,142.5 296.0,160.0 296.5,141.9 297.0,158.8 297.5,142.8 298.0,161.6 298.5,143.7 299.0,160.2 299.5,140.6 300.0,157.5 300.5,141.9 301.0,161.7 301.5,142.4 302.0,158.7 302.5,143.8 303.0,165.2 303.5,143.2 304.0,159.6 304.5,141.0 305.0,157.9 305.5,139.4 306.0,158.1 306.5,142.4 307.0,158.0 307.5,144.1 308.0,155.2 308.5,139.2 309.0,156.8 309.5,138.7 310.0,158.4 310.5,138.5 311.0,161.0 311.5,141.7 312.0,157.3 312.5,140.7 313.0,156.3 313.5,138.6 314.0,156.8 314.5,138.7 315.0,156.4 315.5,141.3 316.0,160.6 316.5,141.7 317.0,162.0 317.6,140.3 318.1,160.2 318.6,140.3 319.1,159.6 319.6,138.8 320.1,159.9 320.6,138.8 321.1,159.8 321.6,141.0 322.1,160.9 322.6,141.7 323.1,160.6 323.6,140.2 324.1,156.2 324.6,144.0 325.1,158.6 325.6,142.3 326.1,157.5 326.6,143.1 327.1,159.3 327.6,142.2 328.1,159.2 328.6,139.9 329.1,158.2 329.6,139.2 330.1,152.4 330.6,140.3 331.1,157.3 331.6,143.7 332.1,160.2 332.6,141.4 333.1,159.1 333.6,145.1 334.1,158.8 334.6,143.6 335.1,158.1 335.6,145.2 336.1,155.6 336.6,144.0 337.1,155.3 337.6,142.1 338.1,158.2 338.6,144.9 339.1,159.9 339.6,145.7 340.1,157.9 340.6,144.4 341.1,160.7 341.6,143.5 342.1,158.8 342.6,143.2 343.1,162.8 343.6,143.5 344.1,161.3 344.6,142.5 345.1,158.2 345.7,143.4 346.2,162.2 346.7,141.7 347.2,160.8 347.7,144.7 348.2,157.5 348.7,142.1 349.2,158.3 349.7,143.2 350.2,161.0 350.7,145.3 351.2,162.3 351.7,148.6 352.2,160.9 352.7,143.9 353.2,155.8 353.7,143.2 354.2,157.7 354.7,144.0 355.2,154.1 355.7,141.4 356.2,156.7 356.7,145.2 357.2,158.0 357.7,143.6 358.2,156.7 358.7,140.6 359.2,158.2 359.7,136.9 360.2,158.8 360.7,142.3 361.2,155.4 361.7,141.9 362.2,157.9 362.7,137.2 363.2,158.4 363.7,140.9 364.2,159.7 364.7,136.8 365.2,159.2 365.7,138.3 366.2,160.4 366.7,139.8 367.2,159.9 367.8,172.0 369.7,415.4 371.8,290.9 372.4,295.2 372.9,310.8 373.4,296.7 373.9,312.4 374.4,297.6 374.9,311.2 375.4,294.2 375.9,311.1 376.4,293.9 376.9,312.1 377.4,296.3 377.9,312.0 378.4,296.0 378.9,311.0 379.4,295.6 379.9,310.8 380.4,295.4 380.9,312.6 381.4,295.1 381.9,312.9 382.4,295.5 382.9,310.8 383.4,295.8 383.9,311.7 384.4,297.6 384.9,311.4 385.4,298.8 385.9,309.0 386.4,296.2 386.9,310.8 387.4,297.9 387.9,312.3 388.5,297.0 389.0,311.4 389.5,297.5 390.0,310.0 390.5,297.5 391.0,306.6 391.5,296.4 392.0,308.5 392.5,297.0 393.0,309.2 393.5,296.6 394.0,310.1 394.5,299.6 395.0,308.0 395.5,296.4 396.0,309.3 396.5,295.7 397.0,307.4 397.5,296.5 398.0,312.9 398.5,295.7 399.0,311.3 399.5,297.0 400.0,311.8 400.5,296.1 401.0,310.7 401.5,297.7 402.0,306.5 402.5,297.6 403.0,310.1 403.5,297.1 404.0,311.6 404.5,294.4 405.0,309.4 405.5,295.0 406.0,310.4 406.5,295.3 407.0,311.6 407.5,294.8 408.0,310.7 408.5,293.3 409.0,310.0 409.5,292.9 410.0,307.8 410.5,293.9 411.0,305.4 411.5,295.4 412.0,306.6 412.5,294.9 413.0,306.9 413.5,296.6 414.0,308.3 414.5,299.0 415.1,310.2 415.6,295.8 416.1,310.7 416.6,295.7 417.1,306.5 417.6,296.1 418.1,309.5 418.6,297.2 419.1,309.2 419.6,294.4 420.1,308.5 420.6,296.0 421.1,312.6 421.6,296.3 422.1,310.9 422.6,296.3 423.1,311.1 423.6,298.7 424.1,312.3 424.6,297.1 425.1,312.6 425.6,296.7 426.1,310.9 426.6,299.5 427.1,311.8 427.6,295.1 428.1,307.7 428.6,295.8 429.1,310.3 429.6,295.7 430.1,309.8 430.6,296.7 431.1,310.4 431.6,296.1 432.1,312.6 432.6,296.4 433.1,315.7 433.6,294.9 434.1,312.5 434.6,296.0 435.1,312.7 435.6,296.4 436.1,313.7 436.6,296.2 437.1,312.4 437.6,297.2 438.1,311.9 438.6,299.0 439.1,309.8 439.6,299.3 440.1,311.4 440.6,297.2 441.1,310.3 441.6,298.9 442.2,311.4 442.7,295.0 443.2,312.7 443.7,299.1 444.2,313.3 444.7,297.3 445.2,312.7 445.7,296.9 446.2,313.5 446.7,297.2 447.2,312.2 447.7,297.4 448.2,313.7 448.7,300.1 449.2,311.7 449.7,299.7 450.2,312.2 450.7,297.3 451.2,312.7 451.7,296.9 452.2,311.7 452.7,297.9 453.2,314.8 453.7,297.3 454.2,311.6 454.7,297.5 455.2,312.1 455.7,300.1 456.2,310.5 456.7,297.0 457.2,307.0 457.7,294.3 458.2,307.1 458.7,295.7 459.2,305.9 459.7,292.6 460.2,304.2 460.7,291.1 461.2,306.9 461.7,291.9 462.2,307.8 462.7,295.4 463.2,307.5 463.7,295.2 464.2,307.0 464.7,296.3 465.2,312.1 465.7,297.5 466.2,310.2 466.7,300.7 467.2,309.5 467.7,296.9 468.2,312.5 468.8,296.4 469.3,309.3 469.8,298.0 470.3,313.8 470.8,298.6 471.3,311.5 471.8,297.3 472.3,309.7 472.8,296.0 473.3,307.9 473.8,298.6 474.3,310.6 474.8,299.0 475.3,309.3 475.8,294.2 476.3,310.3 476.8,298.9 477.3,311.0 477.8,299.7 478.3,309.3 478.8,295.8 479.3,309.7 479.8,296.9 480.3,307.9 480.8,299.0 481.3,309.7 481.8,299.4 482.3,309.2 482.8,296.2 483.3,309.1 483.8,298.1 484.3,308.6 484.8,297.3 485.3,309.9 485.8,296.7 486.3,311.4 486.8,296.2 487.3,311.6 487.8,297.3 488.3,313.9 488.8,298.4 489.3,312.0 489.8,297.1 490.3,312.9 490.8,297.3 491.3,311.4 491.8,297.5 492.3,312.0 492.8,296.4 493.3,313.3 493.8,297.2 494.3,312.7 494.8,297.6 495.4,310.3 495.9,296.3 496.4,309.7 496.9,296.6 497.4,309.5 497.9,293.6 498.4,311.2 498.9,291.8 499.4,307.8 499.9,292.5 500.4,311.0 500.9,294.2 501.4,309.9 501.9,292.4 502.4,308.6 502.9,293.9 503.4,307.3 503.9,293.2 504.4,308.1 504.9,294.0 505.4,311.5 505.9,292.7 506.4,310.1 506.9,294.6 507.4,310.3 507.9,293.5 508.4,309.9 508.9,289.4 509.4,307.0 509.9,290.8 510.4,306.9 510.9,291.2 511.4,309.3 511.9,294.9 512.4,309.8 512.9,295.1 513.4,311.0 513.9,297.5 514.4,310.5 514.9,294.3 515.4,306.2 515.9,294.1 516.4,307.7 516.9,295.0 517.4,303.5 517.9,293.8 518.4,305.5 518.9,291.9 519.4,306.7 519.9,291.4 520.4,306.1 520.9,294.4 521.4,310.0 521.9,295.5 522.5,310.1 523.0,296.2 523.5,308.8 524.0,294.2 524.5,308.6 525.0,295.6 525.5,309.3 526.0,295.1 526.5,309.1 527.0,296.5 527.5,312.6 528.0,298.8 528.5,309.2 529.0,298.3 529.5,312.6 530.0,299.0 530.5,311.9 531.0,296.9 531.5,310.4 532.0,296.6 532.5,310.5 533.0,296.4 533.5,309.8 534.0,295.3 534.5,311.8 535.0,298.2 535.5,311.1 536.0,297.3 536.5,309.9 537.0,295.9 537.5,310.0 538.0,297.7 538.5,309.3 539.0,300.0 539.5,308.2 540.0,300.6 540.5,312.1 541.0,299.4 541.5,312.4 542.0,298.3 542.5,312.1 543.0,298.9 543.5,312.1 544.0,296.8 544.5,311.3 545.0,297.8 545.5,309.4 546.0,299.7 546.5,311.9 547.0,298.0 547.5,311.0 548.0,297.4 548.5,309.9 549.1,295.6 549.6,304.7 550.1,293.7 550.6,306.0 551.1,294.6 551.6,307.1 552.1,293.8 552.6,308.4 553.1,292.1 553.6,310.1 554.1,297.1 554.6,310.4 555.1,294.7 555.6,312.1 556.1,295.3 556.6,312.4 557.1,298.2 557.6,311.8 558.1,297.0 558.6,315.5 559.1,298.9 559.6,317.7 560.1,298.5 560.6,311.7 561.1,299.1 561.6,310.3 562.1,298.1 562.6,311.0 563.1,294.5 563.6,310.5 564.1,295.2 564.6,313.4 565.1,295.8 565.6,314.0 566.1,296.4 566.6,312.1 567.1,296.8 567.6,309.7 568.1,299.8 568.6,311.0 569.1,299.0 569.6,311.0 570.1,298.6 570.6,308.7 571.1,297.9 571.6,306.1 572.1,296.7 572.6,308.1 573.1,296.5 573.6,309.8 574.1,296.2 574.6,311.5 575.1,297.4 575.7,311.2 576.2,297.3 576.7,310.8 577.2,297.8 577.7,308.2 578.2,296.5 578.7,309.0 579.2,294.8 579.7,307.9 580.2,295.9 580.7,307.4 581.2,297.2 581.7,307.0 582.2,297.8 582.7,311.1 583.2,296.3 583.7,309.4 584.2,297.2 584.7,308.7 585.2,297.1 585.7,309.0 586.2,297.4 586.7,310.8 587.2,292.1 587.7,308.6 588.2,292.5 588.7,308.4 589.2,290.8 589.7,308.6 590.2,290.2 590.7,308.3 591.2,293.5 591.7,309.4 592.2,293.0 592.7,310.4 593.2,296.0 593.7,310.7 594.2,296.3 594.7,312.0 595.2,295.7 595.7,309.2 596.2,296.4 596.7,309.4 597.2,296.2 597.7,311.7 598.2,296.1 598.7,309.5 599.2,298.4 599.7,309.7 600.2,298.6 600.7,310.4 601.2,298.9 601.7,311.8 602.2,299.7 602.8,310.4 603.3,299.0 603.8,313.9 604.3,299.0 604.8,311.6 605.3,297.0 605.8,312.4 606.3,298.0 606.8,310.1 607.3,296.9 607.8,310.4 608.3,298.0 608.8,313.1 609.3,296.7 609.8,312.6 610.3,298.1 610.8,311.4 611.3,299.5 611.8,309.6 612.3,296.4 612.8,312.3 613.3,295.4 613.8,311.8 614.3,294.4 614.8,312.6 615.3,296.5 615.8,313.1 616.3,294.9 616.8,309.4 617.3,293.4 617.8,309.0 618.3,293.8 618.8,309.2 619.3,294.9 619.8,310.6 620.3,295.1 620.8,310.2 621.3,294.6 621.8,308.0 622.3,296.7 622.8,309.4 623.3,294.6 623.8,309.1 624.3,294.5 624.8,309.3 625.3,294.8 625.8,307.7 626.3,297.2 626.8,313.2 627.3,295.7 627.8,310.8 628.3,294.5 628.8,312.0 629.4,296.3 629.9,308.7 630.4,297.3 630.9,310.5 631.4,298.8 631.9,313.0 632.4,300.3 632.9,312.7 633.4,296.8 633.9,311.3 634.4,297.7 634.9,312.3 635.4,298.8 635.9,313.0 636.4,300.8 636.9,313.0 637.4,301.0 637.9,312.1 638.4,297.7 641.1,301.4 642.5,374.2 644.0,611.9 645.7,333.7 647.1,70.9 648.4,172.0 649.6,212.5 649.7,213.5 650.2,217.5 650.7,213.2 651.2,219.9 651.7,215.4 652.2,223.3 652.7,218.5 653.2,227.7 653.8,220.9 654.3,235.1 654.8,225.7 655.3,241.8 655.8,229.9 656.3,248.1 656.8,232.2 657.3,247.3 657.8,231.9 658.3,244.5 658.8,232.9 659.3,246.6 659.8,232.2 660.3,243.7 660.8,232.1 661.3,245.3 661.8,231.2 662.3,243.2 662.8,231.2 663.3,243.7 663.8,228.9 664.3,245.3 664.8,229.6 665.3,244.8 665.8,230.0 666.3,246.5 666.8,230.6 667.3,245.7 667.8,234.6 668.3,247.4 668.8,232.7 669.3,246.5 669.8,231.1 670.3,249.8 670.8,234.6 671.3,245.9 671.8,232.3 672.3,246.1 672.8,231.7 673.3,246.3 673.8,230.3 674.3,244.2 674.8,233.4 675.3,244.1 675.8,231.7 676.3,245.6 676.8,232.8 677.3,244.6 677.8,233.0 678.3,247.0 678.8,232.0 679.3,246.1 679.8,232.6 680.3,244.8 680.8,233.1 681.3,249.5 681.8,236.8 682.3,247.5 682.8,235.5 683.3,248.0 683.8,237.0 684.3,246.7 684.8,233.1 685.3,246.7 685.8,231.9 686.3,249.3 686.8,234.3 687.3,249.8 687.8,229.9 688.3,250.2 688.8,233.8 689.3,248.3 689.8,231.0 690.3,249.8 690.8,230.5 691.3,248.8 691.8,230.7 692.3,247.5 692.8,234.3 693.3,247.6 693.8,230.6 694.3,252.1 694.8,231.6 695.3,249.3 695.8,233.3 696.3,249.7 696.8,234.5 697.3,246.1 697.8,233.0 698.3,247.4 698.8,235.5 699.3,246.3 699.8,231.7 700.3,247.5 700.8,231.2 701.3,247.2 701.8,237.7 702.3,247.3 702.9,236.1 703.4,243.5 703.9,237.5 704.4,244.0 704.9,236.0 705.4,246.0 705.9,237.9 706.4,245.5 706.9,235.6 707.4,245.8 707.9,234.1 708.4,245.1 708.9,237.8 709.4,245.7 709.9,235.8 710.4,246.2 710.9,237.1 711.4,246.9 711.9,235.7 712.4,248.3 712.9,232.8 713.4,248.3 713.9,233.1 714.4,248.2 714.9,232.7 715.4,245.2 715.9,234.5 716.4,246.3 716.9,232.3 717.4,247.3 717.9,232.0 718.4,247.5 718.9,232.0 719.4,245.9 719.9,232.5 720.4,250.2 720.9,230.2 721.4,249.5 721.9,230.3 722.4,249.7 722.9,233.6 723.4,246.1 723.9,233.0 724.4,248.6 724.9,232.1 725.4,248.0 725.9,233.5 726.4,246.9 726.9,228.7 727.4,246.9 727.9,228.2 728.4,239.8 728.9,228.9 729.4,239.3 729.9,225.2 730.4,242.1 730.9,224.7 731.4,242.6 731.9,226.3 732.4,241.4 732.9,227.4 733.4,238.5 733.9,226.1 734.4,235.8 734.9,223.3 735.4,234.7 735.9,222.5 736.4,233.3 736.9,226.5 737.4,235.5 737.9,224.5 738.4,243.2 738.9,231.4 739.4,244.2 739.9,233.5 740.4,248.5 740.9,234.7 741.4,246.6 741.9,235.0 742.4,248.5 742.9,235.7 743.4,248.7 743.9,232.9 744.4,247.7 744.9,233.9 745.4,248.4 745.9,235.1 746.4,250.0 746.9,234.4 747.4,249.0 747.9,233.0 748.4,245.8 748.9,236.1 749.4,248.8 749.9,236.6 750.4,248.8 750.9,233.4 751.4,248.8 752.0,233.0 752.5,246.3 753.0,236.1 753.5,247.5 754.0,233.3 754.5,249.2 755.0,234.3 755.5,246.4 756.0,233.2 756.5,246.1 757.0,232.2 757.5,244.1 758.0,231.3 758.5,246.9 759.0,229.7 759.5,248.3 760.0,227.3 760.5,243.6 761.0,227.3 761.5,242.2 762.0,227.1 762.5,243.1 763.0,226.6 763.5,244.0 764.0,228.4 764.5,245.5 765.0,231.8 765.5,245.8 766.0,231.2 766.5,245.5 767.0,232.7 767.5,247.4 768.0,232.8 768.5,243.7 769.0,236.7 769.5,243.8 770.0,233.6 770.5,244.1 771.0,230.2 771.5,245.3 772.0,233.9 772.5,243.0 773.0,233.0 773.5,244.0 774.0,234.0 774.5,243.8 775.0,233.0 775.5,247.5 776.0,234.2 776.5,246.1 777.0,231.5 777.5,243.0 778.0,231.5 778.5,242.5 779.0,234.8 779.5,243.9 780.0,229.7 780.5,247.6 781.0,231.6 781.5,247.1 782.0,230.6 782.5,243.9 783.0,231.2 783.5,245.5 784.0,231.6 784.5,245.8 785.0,231.7 785.5,248.0 786.0,235.1 786.5,247.6 787.0,233.8 787.5,245.9 788.0,233.0 788.5,244.9 789.0,230.7 789.5,247.1 790.0,231.6 790.5,247.7 791.0,231.5 791.5,247.0 792.0,231.1 792.5,244.7 793.0,231.0 793.5,245.2 794.0,230.4 794.5,240.3 795.0,229.8 795.5,244.9 796.0,230.9 796.5,243.7 797.0,228.3 797.5,245.4 798.0,227.2 798.5,242.0 799.0,230.1 799.5,245.3 800.0,230.3 800.5,246.9 801.0,231.9 801.6,248.5 802.1,231.3 802.6,247.3 803.1,230.9 803.6,248.8 804.1,231.9 804.6,251.6 805.1,229.8 805.6,248.7 806.1,230.7 806.6,248.0 807.1,235.3 807.6,248.9 808.1,230.6 808.6,249.9 809.1,232.1 809.6,249.5 810.1,232.2 810.6,247.5 811.1,238.0 811.6,249.6 812.1,237.1 812.6,248.4 813.1,235.4 813.6,247.7 814.1,232.2 814.6,248.7 815.1,233.6 815.6,247.6 816.1,234.0 816.6,248.8 817.1,233.4 817.6,248.2 818.1,234.1 818.6,247.7 819.1,232.5 819.6,246.5 820.1,233.7 820.6,247.3 821.1,232.3 821.6,247.0 822.1,235.7 822.6,246.7 823.1,234.4 823.6,245.1 824.1,233.0 824.6,247.6 825.1,232.7 825.6,246.8 826.1,230.1 826.6,243.7 827.1,228.5 827.6,240.9 828.1,227.3 828.6,241.9 829.1,229.6 829.6,243.5 830.1,229.4 830.6,246.0 831.1,228.5 831.6,245.4 832.1,230.4 832.6,247.1 833.1,235.6 833.6,247.2 834.1,232.0 834.6,244.4 835.1,231.4 835.6,248.0 836.1,230.9 836.6,247.4 837.1,230.2 837.6,245.7 838.1,232.0 838.6,244.0 839.1,231.8 839.6,244.9 840.1,232.8 840.6,244.5 841.1,234.9 841.6,245.0 842.1,233.0 842.6,246.2 843.1,231.7 843.6,246.7 844.1,236.8 844.6,244.6 845.1,232.7 845.6,246.5 846.1,229.4 846.6,248.1 847.1,233.0 847.6,250.2 848.1,233.5 848.6,247.6 849.1,231.5 849.6,249.1 850.1,232.0 850.7,249.1 851.2,237.1 851.7,247.7 852.2,237.7 852.7,246.6 853.2,235.2 853.7,247.9 854.2,233.6 854.7,249.1 855.2,233.9 855.7,248.5 856.2,234.3 856.7,246.5 857.2,232.6 857.7,247.6 858.2,233.9 858.7,247.4 859.2,232.5 859.7,248.1 860.2,232.0 860.7,248.0 861.2,231.6 861.7,246.9 862.2,233.9 862.7,243.1 863.2,235.7 863.7,244.8 864.2,236.9 864.7,248.3 865.2,233.9 865.7,247.6 866.2,235.0 866.7,246.4 867.2,232.8 867.7,245.8 868.2,233.8 868.7,244.8 869.2,233.4 869.7,247.6 870.2,228.9 870.7,248.2 871.2,232.6 871.7,244.6 872.2,232.5 872.7,244.5 873.2,231.8 873.7,246.9 874.2,230.8 874.7,245.7 875.2,234.3 875.7,246.2 876.2,232.3 876.7,246.9 877.2,231.3 877.7,248.7 878.2,228.9 878.7,246.3 879.2,231.6 879.7,245.5 880.2,232.1 880.7,245.9 881.2,233.5 881.7,244.8 882.2,231.0 882.7,245.2 883.2,228.8 883.7,246.1 884.2,233.5 884.7,241.6 885.2,230.8 885.7,243.3 886.2,232.6 886.7,243.4 887.2,232.6 887.7,245.1 888.2,231.4 888.7,245.8 889.2,232.2 889.7,244.4 890.2,234.6 890.7,245.1 891.2,232.2 891.7,245.4 892.2,232.9 892.7,247.1 893.2,234.8 893.7,247.7 894.2,231.7 894.7,248.6 895.2,230.6 895.7,245.3 896.2,230.8 896.7,247.3 897.2,231.5 897.7,249.0 898.2,233.7 898.7,246.8 899.2,234.1 899.8,246.2 900.3,233.2 900.8,245.7 901.3,231.2 901.8,245.6 902.3,231.0 902.8,245.8 903.3,235.0 903.8,244.2 904.3,232.8 904.8,244.5 905.3,230.9 905.8,247.0 906.3,230.8 906.8,245.9 907.3,232.8 907.8,243.5 908.3,233.1 908.8,245.7 909.3,228.9 909.8,241.3 910.3,228.5 910.8,241.4 911.3,228.0 911.8,241.5 912.3,229.5 912.8,241.8 913.3,230.8 913.8,245.0 914.3,233.8 914.8,246.9 915.3,234.7 915.8,247.5 916.3,234.9 916.8,249.4 917.3,234.0 917.8,248.9 918.3,235.1 918.8,246.6 919.3,235.6 919.8,247.5 920.3,232.6 920.8,248.7 921.3,232.9 921.8,247.0 922.3,232.4 922.8,245.4 923.3,231.9 923.8,247.9 924.3,232.6 924.8,246.4 925.3,233.2 925.8,246.0 926.3,231.4 926.8,247.7 927.3,233.2 927.8,244.9 928.3,227.5 928.8,245.3 929.3,230.7 929.8,245.0 930.3,232.3 930.8,246.2 931.3,231.4 931.8,244.5 932.3,230.1 932.8,244.9 933.3,230.8 933.8,247.6 934.3,228.8 934.8,244.9 935.3,230.1 935.8,243.0 936.3,233.8 936.8,246.3 937.3,226.4 937.8,244.0 938.3,231.5 938.8,249.0 939.3,233.1 939.8,246.6 940.3,233.4 940.8,244.6 941.3,233.5 941.8,247.0 942.3,234.4 942.8,244.5 943.3,232.9 943.8,244.0 944.3,230.8 944.8,244.0 945.3,232.4 945.8,248.1 946.3,232.8 946.8,245.7 947.3,231.4 947.8,246.7 948.3,232.0 948.9,246.1 949.4,234.5 949.9,246.6 950.4,234.8 950.9,243.7 951.4,233.3 951.9,246.1 952.4,231.0 952.9,244.8 953.4,230.3 953.9,248.6 954.4,234.7 954.9,249.1 955.4,233.5 955.9,249.3 956.4,234.3 956.9,248.9 957.4,232.5 957.9,248.5 958.4,233.5 958.9,249.4 959.4,234.6 959.9,248.7 960.4,234.9 960.9,247.9 961.4,232.4 961.9,248.4 962.4,235.3 962.9,247.4 963.4,232.5 963.9,252.4"/>
<path stroke="#ff0000" stroke-width="3.3" d=""/>
<polyline stroke="#00ff00" points="95.8,341.8 96.6,172.0 98.0,42.6 99.6,83.1 102.3,119.5 103.7,121.1 103.8,117.9 104.3,124.2 104.8,123.5 105.3,131.3 105.8,125.5 106.3,137.8 106.8,130.9 107.3,145.6 107.8,134.6 108.3,152.3 108.8,136.4 109.3,155.9 109.8,139.1 110.3,158.6 110.8,138.1 111.3,153.8 111.8,134.8 112.3,155.2 112.8,139.2 113.3,158.4 113.8,141.3 114.3,166.4 114.8,144.0 115.3,161.7 115.8,142.2 116.3,160.7 116.8,142.7 117.3,158.0 117.8,144.2 118.3,159.3 118.8,143.2 119.3,160.1 119.8,143.1 120.3,159.3 120.8,142.1 121.4,155.6 121.9,142.4 122.4,156.7 122.9,143.1 123.4,156.7 123.9,142.9 124.4,159.5 124.9,141.0 125.4,158.9 125.9,139.6 126.4,158.4 126.9,142.3 127.4,159.3 127.9,143.4 128.4,160.5 128.9,141.5 129.4,158.3 129.9,140.4 130.4,157.7 130.9,142.7 131.4,160.6 131.9,142.9 132.4,163.5 132.9,146.0 133.4,160.0 133.9,140.5 134.4,155.8 134.9,141.6 135.4,155.3 135.9,140.9 136.4,155.5 136.9,141.9 137.4,158.2 137.9,142.5 138.4,159.0 138.9,142.6 139.4,157.5 139.9,141.2 140.4,158.3 140.9,140.0 141.4,156.0 141.9,140.8 142.4,157.8 142.9,141.6 143.4,155.1 143.9,140.6 144.4,158.6 144.9,141.6 145.4,159.2 145.9,143.5 146.4,160.7 146.9,141.1 147.4,161.4 147.9,142.0 148.4,159.5 148.9,142.9 149.5,157.8 150.0,146.5 150.5,157.9 151.0,144.2 151.5,159.3 152.0,144.3 152.5,156.5 153.0,143.9 153.5,161.3 154.0,141.5 154.5,160.4 155.0,138.3 155.5,161.1 156.0,144.2 156.5,157.7 157.0,141.6 157.5,157.1 158.0,140.9 158.5,155.7 159.0,144.3 159.5,156.9 160.0,141.9 160.5,159.1 161.0,142.0 161.5,158.1 162.0,142.7 162.5,157.7 163.0,143.0 163.5,159.7 164.0,141.2 164.5,157.6 165.0,144.1 165.5,161.4 166.0,144.0 166.5,156.8 167.0,142.4 167.5,158.4 168.0,144.3 168.5,159.1 169.0,142.1 169.5,160.0 170.0,143.1 170.5,159.8 171.0,142.6 171.5,155.4 172.0,140.5 172.5,156.2 173.0,138.8 173.5,155.2 174.0,140.8 174.5,156.2 175.0,141.8 175.5,158.4 176.0,141.2 176.5,158.1 177.0,141.4 177.6,159.7 178.1,143.6 178.6,158.4 179.1,142.8 179.6,155.8 180.1,141.2 180.6,157.3 181.1,144.5 181.6,155.5 182.1,144.3 182.6,156.0 183.1,135.5 183.6,158.3 184.1,142.6 184.6,158.8 185.1,142.0 185.6,156.5 186.1,142.4 186.6,157.1 187.1,144.3 187.6,157.7 188.1,139.7 188.6,152.9 189.1,136.5 189.6,152.7 190.1,134.9 190.6,149.2 191.1,137.8 191.6,155.6 192.1,138.7 192.6,157.9 193.1,139.6 193.6,156.7 194.1,140.7 194.6,157.6 195.1,143.1 195.6,158.1 196.1,142.4 196.6,157.4 197.1,143.8 197.6,156.2 198.1,142.4 198.6,158.0 199.1,140.9 199.6,158.4 200.1,141.2 200.6,157.6 201.1,143.1 201.6,161.7 202.1,143.7 202.6,157.0 203.1,142.1 203.6,155.9 204.1,142.3 204.6,155.7 205.1,143.6 205.7,154.5 206.2,142.6 206.7,158.3 207.2,142.3 207.7,157.8 208.2,142.6 208.7,159.9 209.2,141.0 209.7,160.8 210.2,139.7 210.7,159.2 211.2,142.9 211.7,158.8 212.2,140.8 212.7,157.4 213.2,138.9 213.7,159.0 214.2,140.2 214.7,158.7 215.2,142.1 215.7,162.3 216.2,141.8 216.7,156.6 217.2,140.7 217.7,157.2 218.2,142.2 218.7,157.0 219.2,143.1 219.7,155.5 220.2,143.8 220.7,158.1 221.2,142.7 221.7,154.6 222.2,145.0 222.7,156.2 223.2,138.3 223.7,158.5 224.2,138.4 224.7,159.2 225.2,139.9 225.7,157.0 226.2,144.5 226.7,154.4 227.2,141.4 227.7,156.7 228.2,141.7 228.7,153.2 229.2,142.5 229.7,157.4 230.2,141.3 230.7,157.5 231.2,140.6 231.7,159.3 232.2,142.4 232.7,156.4 233.3,143.5 233.8,159.0 234.3,140.8 234.8,160.4 235.3,143.2 235.8,158.4 236.3,140.3 236.8,159.0 237.3,143.9 237.8,158.3 238.3,142.7 238.8,157.2 239.3,142.2 239.8,159.8 240.3,143.6 240.8,159.2 241.3,141.6 241.8,156.0 242.3,141.4 242.8,158.4 243.3,143.5 243.8,159.6 244.3,141.3 244.8,156.8 245.3,144.4 245.8,158.1 246.3,139.5 246.8,155.9 247.3,140.4 247.8,161.3 248.3,140.2 248.8,158.2 249.3,142.6 249.8,158.5 250.3,143.6 250.8,155.4 251.3,141.5 251.8,156.9 252.3,140.5 252.8,154.8 253.3,139.6 253.8,159.0 254.3,142.2 254.8,159.3 255.3,138.6 255.8,157.9 256.3,136.3 256.8,159.2 257.3,139.2 257.8,159.1 258.3,137.3 258.8,155.7 259.3,135.9 259.8,158.2 260.3,138.5 260.8,155.1 261.4,137.4 261.9,152.3 262.4,137.9 262.9,157.6 263.4,139.6 263.9,157.2 264.4,138.8 264.9,157.6 265.4,138.5 265.9,158.9 266.4,139.3 266.9,156.4 267.4,144.2 267.9,157.5 268.4,142.6 268.9,158.7 269.4,143.5 269.9,159.7 270.4,144.4 270.9,160.0 271.4,142.9 271.9,159.6 272.4,144.0 272.9,158.0 273.4,145.6 273.9,157.6 274.4,141.2 274.9,157.7 275.4,138.9 275.9,159.6 276.4,142.4 276.9,160.8 277.4,141.0 277.9,159.7 278.4,144.8 278.9,161.4 279.4,144.5 279.9,160.1 280.4,144.0 280.9,159.5 281.4,140.2 281.9,159.4 282.4,141.4 282.9,160.6 283.4,143.0 283.9,161.0 284.4,141.1 284.9,162.1 285.4,145.2 285.9,163.2 286.4,146.7 286.9,162.2 287.4,144.6 287.9,161.8 288.4,140.8 288.9,158.5 289.5,139.4 290.0,158.9 290.5,146.0 291.0,158.7 291.5,148.3 292.0,159.0 292.5,146.2 293.0,156.8 293.5,142.3 294.0,158.5 294.5,141.6 295.0,156.5 295.5,140.4 296.0,159.2 296.5,140.1 297.0,158.1 297.5,140.8 298.0,161.4 298.5,143.8 299.0,161.6 299.5,141.3 300.0,163.1 300.5,140.5 301.0,161.1 301.5,143.0 302.0,161.6 302.5,139.9 303.0,160.0 303.5,138.7 304.0,160.1 304.5,140.5 305.0,158.8 305.5,140.6 306.0,158.5 306.5,141.0 307.0,156.1 307.5,140.9 308.0,157.4 308.5,139.3 309.0,155.5 309.5,139.4 310.0,157.2 310.5,140.6 311.0,154.6 311.5,139.7 312.0,159.2 312.5,143.5 313.0,156.8 313.5,141.8 314.0,160.4 314.5,143.2 315.0,159.5 315.5,139.8 316.0,159.9 316.5,141.5 317.0,157.8 317.6,141.4 318.1,157.7 318.6,140.2 319.1,159.0 319.6,138.2 320.1,160.1 320.6,138.8 321.1,160.1 321.6,141.0 322.1,157.1 322.6,141.8 323.1,159.3 323.6,142.6 324.1,160.7 324.6,144.8 325.1,161.2 325.6,143.3 326.1,156.2 326.6,141.8 327.1,159.1 327.6,140.2 328.1,161.3 328.6,142.8 329.1,161.5 329.6,140.1 330.1,159.9 330.6,139.7 331.1,159.5 331.6,139.8 332.1,158.4 332.6,143.7 333.1,158.8 333.6,140.8 334.1,159.7 334.6,139.9 335.1,160.2 335.6,141.1 336.1,158.4 336.6,141.8 337.1,156.7 337.6,144.1 338.1,159.0 338.6,140.0 339.1,156.0 339.6,139.3 340.1,157.6 340.6,138.1 341.1,161.1 341.6,138.9 342.1,160.2 342.6,138.0 343.1,159.7 343.6,139.1 344.1,155.2 344.6,139.2 345.1,151.6 345.7,139.1 346.2,153.5 346.7,140.6 347.2,157.0 347.7,140.8 348.2,154.3 348.7,138.6 349.2,155.6 349.7,137.5 350.2,157.3 350.7,137.5 351.2,154.7 351.7,139.5 352.2,159.2 352.7,139.9 353.2,162.5 353.7,142.9 354.2,157.4 354.7,142.4 355.2,157.0 355.7,143.3 356.2,159.6 356.7,146.7 357.2,158.7 357.7,143.7 358.2,159.6 358.7,142.0 359.2,161.1 359.7,143.6 360.2,164.2 360.7,145.9 361.2,164.0 361.7,144.7 362.2,163.7 362.7,143.9 363.2,158.3 363.7,143.1 364.2,161.9 364.7,144.3 365.2,164.4 365.7,143.7 366.2,165.9 366.7,141.2 367.2,161.2 367.8,172.0 369.8,425.1 371.8,309.5 372.4,318.2 372.9,327.7 373.4,317.3 373.9,328.7 374.4,317.4 374.9,329.6 375.4,318.4 375.9,329.6 376.4,317.9 376.9,325.9 377.4,319.0 377.9,327.2 378.4,315.8 378.9,330.4 379.4,318.9 379.9,329.1 380.4,317.0 380.9,329.9 381.4,316.1 381.9,331.5 382.4,316.5 382.9,333.0 383.4,317.7 383.9,332.0 384.4,313.4 384.9,329.6 385.4,313.7 385.9,329.1 386.4,318.4 386.9,330.9 387.4,316.1 387.9,330.7 388.5,315.5 389.0,329.3 389.5,316.6 390.0,331.8 390.5,318.8 391.0,333.0 391.5,315.8 392.0,333.6 392.5,313.7 393.0,331.2 393.5,314.9 394.0,332.4 394.5,316.1 395.0,331.1 395.5,315.2 396.0,330.3 396.5,319.4 397.0,331.3 397.5,316.1 398.0,331.7 398.5,320.2 399.0,331.8 399.5,319.2 400.0,328.1 400.5,317.2 401.0,336.2 401.5,316.9 402.0,333.1 402.5,317.0 403.0,331.6 403.5,317.0 404.0,331.3 404.5,316.7 405.0,329.1 405.5,316.5 406.0,329.6 406.5,316.2 407.0,329.0 407.5,317.3 408.0,329.5 408.5,319.4 409.0,328.4 409.5,314.0 410.0,330.2 410.5,315.6 411.0,330.1 411.5,317.3 412.0,331.2 412.5,313.9 413.0,330.0 413.5,315.0 414.0,329.5 414.5,317.2 415.1,330.2 415.6,317.6 416.1,329.6 416.6,316.0 417.1,328.5 417.6,320.1 418.1,327.2 418.6,320.5 419.1,329.4 419.6,320.9 420.1,329.8 420.6,319.3 421.1,330.3 421.6,317.3 422.1,329.7 422.6,318.5 423.1,330.6 423.6,315.2 424.1,329.0 424.6,317.9 425.1,328.4 425.6,316.8 426.1,326.6 426.6,317.4 427.1,329.9 427.6,315.2 428.1,329.6 428.6,315.5 429.1,330.3 429.6,315.6 430.1,332.6 430.6,315.4 431.1,328.4 431.6,315.9 432.1,330.2 432.6,317.5 433.1,330.8 433.6,314.5 434.1,331.7 434.6,317.1 435.1,331.0 435.6,316.6 436.1,332.4 436.6,318.0 437.1,332.9 437.6,316.5 438.1,334.5 438.6,317.3 439.1,333.7 439.6,318.0 440.1,332.9 440.6,319.2 441.1,331.6 441.6,315.4 442.2,335.6 442.7,317.6 443.2,335.2 443.7,318.0 444.2,333.3 444.7,320.1 445.2,330.1 445.7,316.8 446.2,332.2 446.7,317.3 447.2,331.3 447.7,320.0 448.2,332.0 448.7,316.3 449.2,331.0 449.7,318.3 450.2,327.6 450.7,316.0 451.2,333.0 451.7,316.3 452.2,330.1 452.7,315.9 453.2,328.3 453.7,315.3 454.2,331.4 454.7,315.1 455.2,331.2 455.7,313.3 456.2,329.0 456.7,315.6 457.2,328.5 457.7,315.6 458.2,329.7 458.7,315.4 459.2,328.2 459.7,315.4 460.2,328.9 460.7,314.7 461.2,328.2 461.7,315.5 462.2,330.1 462.7,316.3 463.2,330.4 463.7,319.4 464.2,329.4 464.7,317.5 465.2,325.7 465.7,315.0 466.2,329.1 466.7,315.9 467.2,330.2 467.7,316.1 468.2,328.3 468.8,316.4 469.3,326.6 469.8,313.1 470.3,329.4 470.8,316.5 471.3,329.4 471.8,316.2 472.3,327.3 472.8,316.7 473.3,326.9 473.8,315.9 474.3,329.4 474.8,318.4 475.3,329.5 475.8,315.8 476.3,329.9 476.8,318.4 477.3,332.9 477.8,318.2 478.3,331.6 478.8,317.5 479.3,331.5 479.8,316.5 480.3,331.6 480.8,316.9 481.3,331.8 481.8,316.4 482.3,328.7 482.8,318.8 483.3,331.2 483.8,316.8 484.3,329.6 484.8,317.7 485.3,330.2 485.8,316.7 486.3,329.4 486.8,318.9 487.3,331.4 487.8,320.0 488.3,328.0 488.8,316.3 489.3,335.0 489.8,317.1 490.3,332.3 490.8,315.6 491.3,332.7 491.8,318.2 492.3,332.4 492.8,316.8 493.3,332.0 493.8,315.2 494.3,329.7 494.8,314.0 495.4,331.7 495.9,314.0 496.4,329.5 496.9,313.9 497.4,329.5 497.9,317.2 498.4,331.1 498.9,317.7 499.4,330.5 499.9,316.4 500.4,329.7 500.9,317.7 501.4,331.7 501.9,315.1 502.4,331.1 502.9,316.9 503.4,330.2 503.9,313.4 504.4,331.1 504.9,313.1 505.4,331.8 505.9,313.7 506.4,335.0 506.9,315.5 507.4,330.9 507.9,316.2 508.4,329.3 508.9,316.7 509.4,331.8 509.9,314.5 510.4,329.1 510.9,315.2 511.4,331.1 511.9,317.6 512.4,332.5 512.9,315.6 513.4,331.5 513.9,317.7 514.4,332.6 514.9,316.0 515.4,333.0 515.9,318.0 516.4,331.1 516.9,317.1 517.4,330.3 517.9,319.4 518.4,331.8 518.9,319.7 519.4,330.7 519.9,318.4 520.4,330.2 520.9,316.2 521.4,329.1 521.9,315.3 522.5,330.4 523.0,318.3 523.5,330.6 524.0,317.1 524.5,330.6 525.0,317.3 525.5,330.6 526.0,317.1 526.5,329.9 527.0,320.3 527.5,331.0 528.0,315.8 528.5,330.6 529.0,316.7 529.5,328.1 530.0,316.1 530.5,330.6 531.0,314.7 531.5,331.9 532.0,315.1 532.5,331.0 533.0,316.6 533.5,331.0 534.0,314.7 534.5,328.7 535.0,316.3 535.5,335.0 536.0,319.4 536.5,331.2 537.0,318.7 537.5,330.8 538.0,317.3 538.5,331.1 539.0,316.7 539.5,327.8 540.0,317.8 540.5,329.7 541.0,316.2 541.5,329.1 542.0,317.5 542.5,326.3 543.0,316.3 543.5,329.1 544.0,315.1 544.5,329.9 545.0,317.4 545.5,329.1 546.0,316.5 546.5,329.0 547.0,317.2 547.5,328.6 548.0,315.2 548.5,329.6 549.1,315.5 549.6,330.9 550.1,314.0 550.6,330.5 551.1,312.1 551.6,330.0 552.1,315.3 552.6,331.2 553.1,316.4 553.6,331.3 554.1,318.0 554.6,330.6 555.1,315.7 555.6,331.1 556.1,315.9 556.6,331.4 557.1,317.1 557.6,334.0 558.1,314.2 558.6,331.3 559.1,316.0 559.6,329.2 560.1,316.1 560.6,330.1 561.1,316.1 561.6,329.5 562.1,315.6 562.6,328.1 563.1,315.8 563.6,327.9 564.1,316.9 564.6,329.5 565.1,317.5 565.6,330.9 566.1,318.2 566.6,330.3 567.1,318.6 567.6,330.5 568.1,315.7 568.6,331.4 569.1,316.9 569.6,330.6 570.1,316.3 570.6,329.4 571.1,317.2 571.6,332.7 572.1,319.0 572.6,332.1 573.1,316.4 573.6,331.4 574.1,316.2 574.6,333.9 575.1,314.9 575.7,332.7 576.2,317.1 576.7,332.2 577.2,314.1 577.7,331.3 578.2,314.7 578.7,329.0 579.2,314.4 579.7,332.0 580.2,316.1 580.7,329.4 581.2,317.2 581.7,331.4 582.2,316.6 582.7,333.5 583.2,313.8 583.7,330.7 584.2,315.3 584.7,332.0 585.2,317.2 585.7,331.8 586.2,316.9 586.7,330.8 587.2,315.8 587.7,330.7 588.2,315.8 588.7,332.3 589.2,316.0 589.7,330.6 590.2,315.8 590.7,329.9 591.2,315.2 591.7,329.9 592.2,316.5 592.7,333.6 593.2,315.5 593.7,332.4 594.2,318.2 594.7,330.9 595.2,315.3 595.7,330.6 596.2,316.4 596.7,329.4 597.2,315.4 597.7,331.1 598.2,315.7 598.7,329.0 599.2,315.8 599.7,332.9 600.2,315.7 600.7,331.1 601.2,313.8 601.7,331.5 602.2,316.9 602.8,332.5 603.3,315.9 603.8,332.5 604.3,318.6 604.8,330.7 605.3,316.1 605.8,329.8 606.3,315.2 606.8,329.3 607.3,312.5 607.8,327.9 608.3,316.9 608.8,327.4 609.3,316.8 609.8,331.5 610.3,316.0 610.8,330.2 611.3,317.0 611.8,329.8 612.3,318.0 612.8,330.7 613.3,317.0 613.8,331.5 614.3,316.3 614.8,336.5 615.3,315.4 615.8,332.8 616.3,315.0 616.8,331.9 617.3,316.8 617.8,333.8 618.3,313.8 618.8,330.1 619.3,315.1 619.8,329.6 620.3,315.4 620.8,329.1 621.3,315.6 621.8,329.2 622.3,314.6 622.8,330.3 623.3,317.8 623.8,328.4 624.3,314.6 624.8,327.8 625.3,313.2 625.8,328.3 626.3,315.8 626.8,331.6 627.3,315.0 627.8,331.4 628.3,313.8 628.8,332.0 629.4,316.6 629.9,334.5 630.4,315.7 630.9,330.9 631.4,315.6 631.9,329.5 632.4,318.0 632.9,329.5 633.4,314.6 633.9,330.3 634.4,318.0 634.9,330.2 635.4,316.3 635.9,329.9 636.4,316.5 636.9,330.5 637.4,314.9 637.9,330.9 638.4,314.5 638.9,309.5 640.8,180.1 642.6,228.6 642.7,230.8 643.2,236.7 643.7,233.3 644.2,240.1 644.7,235.0 645.2,243.5 645.7,237.2 646.2,247.3 646.7,236.9 647.2,251.3 647.7,238.7 648.2,251.1 648.7,239.1 649.2,254.1 649.7,239.2 650.2,253.0 650.7,240.5 651.2,253.3 651.7,239.6 652.2,255.8 652.7,240.5 653.2,252.4 653.7,238.8 654.2,252.2 654.7,238.3 655.2,253.8 655.7,238.4 656.2,255.2 656.7,241.1 657.2,253.6 657.7,240.8 658.2,254.7 658.7,238.7 659.2,253.8 659.7,241.4 660.2,252.5 660.7,237.7 661.2,254.7 661.7,240.0 662.2,256.8 662.7,239.2 663.2,255.4 663.7,242.3 664.2,254.3 664.7,239.8 665.2,253.2 665.7,241.2 666.2,252.9 666.7,241.5 667.2,254.0 667.7,239.8 668.2,255.7 668.7,241.5 669.2,252.1 669.7,242.4 670.2,253.1 670.7,241.6 671.2,255.4 671.7,244.4 672.2,253.7 672.7,244.4 673.2,254.7 673.7,240.7 674.2,256.8 674.7,240.3 675.2,254.4 675.8,240.9 676.3,252.4 676.8,240.3 677.3,254.3 677.8,241.7 678.3,254.5 678.8,239.9 679.3,254.3 679.8,240.2 680.3,253.7 680.8,240.7 681.3,254.2 681.8,239.7 682.3,252.9 682.8,243.3 683.3,253.1 683.8,240.4 684.3,257.8 684.8,241.6 685.3,251.5 685.8,241.3 686.3,254.9 686.8,241.7 687.3,255.5 687.8,241.7 688.3,255.0 688.8,239.9 689.3,253.5 689.8,239.6 690.3,254.1 690.8,241.1 691.3,252.7 691.8,239.2 692.3,250.0 692.8,237.5 693.3,253.4 693.8,239.6 694.3,250.9 694.8,236.1 695.3,252.6 695.8,237.0 696.3,253.1 696.8,238.0 697.3,249.7 697.8,238.6 698.3,252.4 698.8,237.1 699.3,251.9 699.8,239.5 700.3,252.7 700.8,236.2 701.3,250.0 701.8,239.0 702.3,252.0 702.8,236.8 703.3,253.8 703.8,237.2 704.3,250.4 704.8,235.7 705.3,252.2 705.8,235.8 706.3,252.3 706.8,240.2 707.3,251.6 707.8,237.7 708.3,252.2 708.8,236.8 709.3,249.8 709.8,237.8 710.3,253.1 710.8,241.6 711.3,253.8 711.8,239.9 712.3,254.7 712.8,238.8 713.3,252.6 713.8,236.5 714.3,253.3 714.8,237.0 715.3,253.6 715.8,239.5 716.3,253.8 716.8,240.1 717.3,251.6 717.8,239.1 718.3,254.3 718.8,242.9 719.3,254.0 719.8,239.3 720.3,250.2 720.8,240.3 721.4,253.1 721.9,238.6 722.4,254.5 722.9,240.0 723.4,257.4 723.9,240.4 724.4,253.3 724.9,241.9 725.4,257.8 725.9,239.6 726.4,257.6 726.9,239.2 727.4,258.1 727.9,239.4 728.4,257.2 728.9,237.7 729.4,256.1 729.9,241.2 730.4,256.3 730.9,239.8 731.4,257.4 731.9,241.8 732.4,256.6 732.9,242.9 733.4,255.9 733.9,242.1 734.4,256.0 734.9,241.8 735.4,256.3 735.9,240.6 736.4,253.1 736.9,239.4 737.4,253.7 737.9,239.5 738.4,256.2 738.9,238.3 739.4,254.0 739.9,239.9 740.4,255.9 740.9,239.0 741.4,253.9 741.9,238.0 742.4,253.5 742.9,237.9 743.4,254.3 743.9,241.5 744.4,253.7 744.9,238.7 745.4,255.8 745.9,239.7 746.4,254.7 746.9,240.8 747.4,253.2 747.9,239.9 748.4,254.8 748.9,239.5 749.4,253.2 749.9,241.1 750.4,253.2 750.9,242.9 751.4,254.7 751.9,237.3 752.4,254.0 752.9,240.7 753.4,256.4 753.9,241.7 754.4,252.6 754.9,240.0 755.4,252.8 755.9,239.7 756.4,253.7 756.9,241.9 757.4,255.1 757.9,243.3 758.4,255.1 758.9,238.9 759.4,254.1 759.9,238.0 760.4,254.4 760.9,238.1 761.4,254.2 761.9,238.8 762.4,253.2 762.9,238.9 763.4,255.6 763.9,239.0 764.4,254.4 764.9,236.7 765.4,253.9 765.9,237.1 766.4,258.9 767.0,238.2 767.5,255.5 768.0,238.7 768.5,254.4 769.0,238.1 769.5,252.7 770.0,237.5 770.5,255.8 771.0,240.4 771.5,255.5 772.0,239.7 772.5,254.7 773.0,237.2 773.5,252.5 774.0,238.5 774.5,254.8 775.0,239.3 775.5,255.3 776.0,241.0 776.5,255.5 777.0,238.0 777.5,254.7 778.0,241.4 778.5,252.9 779.0,240.4 779.5,256.1 780.0,241.4 780.5,254.8 781.0,239.7 781.5,254.5 782.0,239.6 782.5,254.2 783.0,242.1 783.5,259.7 784.0,240.0 784.5,256.5 785.0,241.1 785.5,254.7 786.0,240.9 786.5,252.6 787.0,239.8 787.5,254.3 788.0,238.8 788.5,250.6 789.0,237.8 789.5,253.7 790.0,239.6 790.5,254.2 791.0,234.3 791.5,254.6 792.0,238.3 792.5,253.8 793.0,237.5 793.5,252.4 794.0,237.2 794.5,252.7 795.0,235.5 795.5,253.9 796.0,235.9 796.5,254.4 797.0,237.1 797.5,251.3 798.0,236.0 798.5,254.3 799.0,241.0 799.5,248.0 800.0,237.9 800.5,253.3 801.0,238.7 801.5,253.6 802.0,235.5 802.5,249.6 803.0,236.1 803.5,252.7 804.0,235.7 804.5,255.9 805.0,236.8 805.5,248.9 806.0,235.9 806.5,252.3 807.0,235.3 807.5,250.8 808.0,235.9 808.5,251.0 809.0,234.7 809.5,250.9 810.0,235.8 810.5,253.0 811.0,237.9 811.5,249.4 812.0,239.5 812.5,253.6 813.1,238.1 813.6,253.4 814.1,238.7 814.6,253.1 815.1,239.5 815.6,251.9 816.1,239.1 816.6,250.4 817.1,241.1 817.6,255.6 818.1,237.4 818.6,253.9 819.1,236.8 819.6,256.7 820.1,237.5 820.6,256.5 821.1,237.0 821.6,253.4 822.1,239.0 822.6,252.8 823.1,237.3 823.6,253.4 824.1,237.9 824.6,251.5 825.1,238.8 825.6,249.6 826.1,237.0 826.6,249.8 827.1,237.4 827.6,252.8 828.1,239.8 828.6,249.4 829.1,239.2 829.6,250.2 830.1,239.0 830.6,253.0 831.1,237.2 831.6,251.5 832.1,236.8 832.6,253.1 833.1,235.4 833.6,254.1 834.1,234.7 834.6,252.3 835.1,236.1 835.6,255.2 836.1,237.2 836.6,257.2 837.1,237.6 837.6,256.4 838.1,238.8 838.6,253.3 839.1,237.7 839.6,253.2 840.1,238.1 840.6,254.1 841.1,239.0 841.6,252.9 842.1,238.0 842.6,256.2 843.1,242.1 843.6,254.9 844.1,239.0 844.6,253.9 845.1,237.9 845.6,255.3 846.1,237.4 846.6,253.8 847.1,239.4 847.6,253.3 848.1,238.2 848.6,255.6 849.1,239.3 849.6,257.1 850.1,240.0 850.6,256.6 851.1,240.0 851.6,257.4 852.1,240.4 852.6,255.8 853.1,240.2 853.6,261.0 854.1,240.0 854.6,257.4 855.1,237.8 855.6,255.3 856.1,237.5 856.6,253.0 857.1,238.8 857.6,254.7 858.1,240.4 858.7,252.9 859.2,238.4 859.7,255.2 860.2,237.7 860.7,255.8 861.2,237.5 861.7,256.3 862.2,239.6 862.7,254.3 863.2,240.8 863.7,252.9 864.2,238.4 864.7,253.3 865.2,241.5 865.7,257.4 866.2,240.0 866.7,256.8 867.2,241.5 867.7,252.7 868.2,242.5 868.7,254.7 869.2,240.5 869.7,255.1 870.2,239.8 870.7,254.9 871.2,243.4 871.7,254.9 872.2,239.9 872.7,253.8 873.2,239.6 873.7,254.9 874.2,238.5 874.7,256.7 875.2,238.7 875.7,254.5 876.2,242.3 876.7,255.3 877.2,239.2 877.7,252.8 878.2,240.9 878.7,257.2 879.2,239.7 879.7,257.0 880.2,238.6 880.7,257.2 881.2,236.8 881.7,255.0 882.2,238.7 882.7,256.0 883.2,237.6 883.7,251.4 884.2,237.1 884.7,255.7 885.2,237.9 885.7,255.4 886.2,241.6 886.7,252.5 887.2,239.4 887.7,251.9 888.2,239.0 888.7,253.6 889.2,240.7 889.7,252.9 890.2,242.1 890.7,251.7 891.2,237.7 891.7,251.8 892.2,240.1 892.7,254.6 893.2,239.2 893.7,255.2 894.2,238.8 894.7,253.0 895.2,240.0 895.7,252.1 896.2,241.9 896.7,252.7 897.2,237.9 897.7,252.1 898.2,238.6 898.7,254.2 899.2,240.5 899.7,253.4 900.2,238.1 900.7,252.8 901.2,237.9 901.7,253.1 902.2,235.4 902.7,250.7 903.2,235.2 903.7,252.7 904.3,237.0 904.8,250.4 905.3,240.2 905.8,252.4 906.3,238.6 906.8,252.6 907.3,237.2 907.8,253.7 908.3,238.6 908.8,251.7 909.3,238.0 909.8,254.0 910.3,238.6 910.8,252.3 911.3,241.1 911.8,255.5 912.3,239.9 912.8,258.5 913.3,242.6 913.8,255.4 914.3,239.6 914.8,253.0 915.3,237.0 915.8,257.6 916.3,235.9 916.8,254.9 917.3,241.7 917.8,253.8 918.3,240.2 918.8,252.9 919.3,240.1 919.8,253.2 920.3,237.2 920.8,251.3 921.3,238.5 921.8,251.8 922.3,237.0 922.8,253.0 923.3,236.7 923.8,254.3 924.3,235.7 924.8,253.1 925.3,235.6 925.8,254.8 926.3,239.1 926.8,253.4 927.3,235.8 927.8,254.0 928.3,237.5 928.8,255.3 929.3,237.0 929.8,255.0 930.3,238.1 930.8,253.5 931.3,240.4 931.8,252.4 932.3,237.5 932.8,250.2 933.3,236.3 933.8,254.3 934.3,239.7 934.8,250.1 935.3,237.5 935.8,251.1 936.3,238.8 936.8,251.4 937.3,238.1 937.8,252.4 938.3,240.0 938.8,254.0 939.3,238.6 939.8,251.9 940.3,241.2 940.8,253.5 941.3,241.6 941.8,252.4 942.3,238.4 942.8,253.6 943.3,238.8 943.8,254.6 944.3,239.2 944.8,254.8 945.3,237.7 945.8,254.6 946.3,238.6 946.8,253.9 947.3,237.0 947.8,255.2 948.3,238.2 948.8,254.9 949.3,238.9 949.9,253.7 950.4,238.9 950.9,254.3 951.4,239.5 951.9,251.5 952.4,237.8 952.9,254.6 953.4,239.3 953.9,254.8 954.4,237.6 954.9,251.8 955.4,238.2 955.9,253.1 956.4,237.8 956.9,249.7 957.4,238.4 957.9,251.9 958.4,237.7 958.9,252.1 959.4,237.8 959.9,253.0 960.4,237.6 960.9,252.2 961.4,237.2 961.9,252.9 962.4,240.4 962.9,253.3 963.4,238.0 963.9,253.1"/>
<path stroke="#00ff00" stroke-width="4.2" d="M375.4 329.4V334.9M383.2 332.8V336.8M391.8 313.9V310.1M400.2 336.0V340.6M406.0 316.4V312.5M410.0 331.0V335.0M416.6 330.0V333.6M424.6 330.4V334.6M433.6 331.5V335.9M438.9 334.3V338.4M443.7 335.4V340.8M449.0 332.8V338.2M455.2 331.2V336.4M462.3 330.2V334.8M467.9 330.0V333.8M472.1 316.1V312.1M478.5 332.7V336.7M485.5 331.2V336.4M490.8 334.8V340.0M499.8 315.3V311.6M503.6 331.6V336.4M508.2 334.8V338.1M513.7 315.8V312.2M519.3 316.4V312.6M525.3 330.8V334.6M531.0 331.7V336.0M539.2 316.4V313.0M544.9 329.7V333.3M552.2 312.3V308.7M556.0 333.8V338.7M559.6 314.4V310.0M568.2 331.2V334.7M574.3 333.7V339.1M578.2 332.0V336.1M583.1 333.3V337.0M589.8 332.1V336.3M598.4 332.7V336.4M606.9 312.7V309.2M614.6 336.3V341.3M618.2 333.6V337.7M622.5 330.1V335.6M629.4 334.3V339.7M635.1 330.7V336.2M650.7 255.6V258.9M657.0 255.0V260.0M664.2 256.6V261.3M668.1 255.5V260.5M671.8 240.9V237.3M678.8 240.1V236.3M687.2 255.3V258.9M692.6 253.9V257.5M697.2 252.9V256.2M703.3 253.6V257.2M707.9 252.1V256.9M716.7 254.1V257.7M725.2 257.9V262.7M730.9 257.2V260.7M735.9 256.1V259.4M740.9 255.7V260.0M747.9 254.6V258.0M755.3 239.9V236.7M760.2 254.9V259.7M766.6 236.9V233.6M771.3 255.6V260.4M778.4 255.9V259.9M785.9 256.3V261.3M793.8 253.7V257.2M800.8 253.4V257.6M808.1 252.1V257.1M813.9 253.4V256.8M819.1 256.5V261.3M823.3 253.2V256.7M827.5 252.6V256.7M834.7 257.0V260.2M839.0 256.2V259.6M842.8 256.0V259.9M850.1 257.2V262.2M855.1 260.8V265.4M861.8 256.1V260.9M867.7 256.6V261.6M874.9 256.5V259.9M881.5 257.0V261.6M886.3 238.1V234.8M893.8 239.0V235.6M901.7 252.9V257.5M907.2 237.4V233.6M913.7 258.3V261.7M919.9 253.0V257.7M928.4 255.1V260.0M932.1 254.1V258.7M937.4 253.8V257.8M945.8 255.0V258.4M951.1 254.4V258.0M958.3 237.8V233.9"/>
<polyline stroke="#a2142f" points="95.8,341.8 96.5,188.2 98.0,34.2 99.3,75.0 101.8,112.2 103.7,113.8 103.8,112.6 104.3,119.5 104.8,116.8 105.3,127.0 105.8,121.5 106.3,133.9 106.8,126.0 107.3,143.1 107.8,132.1 108.3,145.8 108.8,136.9 109.3,154.3 109.8,139.1 110.3,160.2 110.8,141.6 111.3,160.3 111.8,141.4 112.3,159.6 112.8,139.0 113.3,166.8 113.8,142.5 114.3,161.6 114.8,143.8 115.3,158.7 115.8,139.7 116.3,154.5 116.8,140.0 117.3,159.7 117.8,139.8 118.3,158.3 118.8,140.6 119.3,155.9 119.8,141.1 120.3,159.9 120.8,139.9 121.4,158.8 121.9,144.0 122.4,160.6 122.9,142.3 123.4,159.8 123.9,142.2 124.4,162.8 124.9,144.2 125.4,158.4 125.9,143.7 126.4,160.8 126.9,146.4 127.4,164.3 127.9,145.4 128.4,162.0 128.9,143.4 129.4,161.4 129.9,142.1 130.4,162.3 130.9,142.5 131.4,161.5 131.9,142.3 132.4,161.7 132.9,145.6 133.4,166.7 133.9,143.2 134.4,164.4 134.9,143.6 135.4,160.5 135.9,144.2 136.4,162.1 136.9,143.4 137.4,162.8 137.9,144.6 138.4,160.8 138.9,147.9 139.4,160.5 139.9,147.7 140.4,160.3 140.9,143.4 141.4,158.7 141.9,142.7 142.4,159.5 142.9,142.8 143.4,161.3 143.9,144.3 144.4,162.0 144.9,142.5 145.4,162.3 145.9,144.5 146.4,160.1 146.9,145.4 147.4,159.9 147.9,146.8 148.4,160.1 148.9,143.5 149.5,162.7 150.0,139.3 150.5,158.6 151.0,140.0 151.5,157.8 152.0,138.5 152.5,158.8 153.0,139.0 153.5,161.5 154.0,141.0 154.5,157.9 155.0,139.4 155.5,162.5 156.0,141.4 156.5,159.2 157.0,138.6 157.5,155.7 158.0,142.5 158.5,157.6 159.0,143.0 159.5,157.4 160.0,146.3 160.5,158.0 161.0,143.5 161.5,156.0 162.0,146.4 162.5,157.7 163.0,146.1 163.5,158.5 164.0,143.1 164.5,157.9 165.0,142.5 165.5,158.4 166.0,143.0 166.5,156.0 167.0,144.4 167.5,157.6 168.0,144.8 168.5,157.7 169.0,146.1 169.5,156.9 170.0,142.0 170.5,159.8 171.0,142.7 171.5,158.4 172.0,142.1 172.5,160.4 173.0,140.8 173.5,158.9 174.0,140.2 174.5,165.2 175.0,143.9 175.5,160.7 176.0,142.2 176.5,159.6 177.0,143.4 177.6,160.1 178.1,146.1 178.6,159.7 179.1,145.9 179.6,162.3 180.1,142.3 180.6,161.7 181.1,140.8 181.6,160.6 182.1,139.3 182.6,160.1 183.1,142.3 183.6,162.2 184.1,139.0 184.6,160.5 185.1,141.7 185.6,157.5 186.1,143.5 186.6,163.2 187.1,141.7 187.6,157.8 188.1,143.5 188.6,160.5 189.1,145.1 189.6,165.6 190.1,140.7 190.6,157.2 191.1,140.1 191.6,159.3 192.1,140.0 192.6,159.2 193.1,139.3 193.6,158.6 194.1,137.4 194.6,158.8 195.1,139.9 195.6,153.1 196.1,143.8 196.6,156.6 197.1,140.2 197.6,160.9 198.1,140.1 198.6,160.6 199.1,141.2 199.6,159.5 200.1,143.6 200.6,160.0 201.1,140.3 201.6,160.1 202.1,141.0 202.6,155.4 203.1,139.0 203.6,157.6 204.1,138.9 204.6,160.0 205.1,141.1 205.7,157.7 206.2,142.7 206.7,156.0 207.2,139.2 207.7,157.7 208.2,138.7 208.7,157.7 209.2,140.0 209.7,157.8 210.2,140.9 210.7,157.8 211.2,137.4 211.7,159.8 212.2,141.6 212.7,157.2 213.2,140.4 213.7,158.3 214.2,142.7 214.7,158.3 215.2,142.9 215.7,159.7 216.2,140.9 216.7,157.9 217.2,140.7 217.7,158.9 218.2,141.3 218.7,156.2 219.2,142.5 219.7,157.4 220.2,142.0 220.7,159.9 221.2,144.1 221.7,158.8 222.2,141.7 222.7,157.2 223.2,141.6 223.7,157.5 224.2,134.6 224.7,156.1 225.2,138.3 225.7,156.6 226.2,137.1 226.7,156.3 227.2,138.7 227.7,155.9 228.2,139.2 228.7,156.9 229.2,138.3 229.7,153.8 230.2,138.8 230.7,158.2 231.2,139.4 231.7,162.4 232.2,141.2 232.7,157.8 233.3,140.2 233.8,155.4 234.3,144.1 234.8,156.1 235.3,142.6 235.8,159.0 236.3,144.8 236.8,160.1 237.3,144.0 237.8,162.8 238.3,141.0 238.8,162.5 239.3,137.0 239.8,160.2 240.3,138.1 240.8,159.3 241.3,139.0 241.8,158.4 242.3,140.6 242.8,158.2 243.3,140.8 243.8,158.4 244.3,141.5 244.8,156.3 245.3,142.3 245.8,159.9 246.3,142.7 246.8,159.8 247.3,140.3 247.8,161.0 248.3,140.1 248.8,161.1 249.3,139.7 249.8,156.5 250.3,139.3 250.8,156.1 251.3,140.5 251.8,160.4 252.3,142.4 252.8,160.0 253.3,140.4 253.8,164.8 254.3,139.9 254.8,157.5 255.3,143.5 255.8,159.4 256.3,142.3 256.8,159.8 257.3,144.2 257.8,159.1 258.3,141.7 258.8,161.0 259.3,142.3 259.8,160.2 260.3,141.5 260.8,160.5 261.4,140.9 261.9,158.4 262.4,144.8 262.9,161.3 263.4,144.5 263.9,160.6 264.4,141.3 264.9,159.9 265.4,141.1 265.9,163.6 266.4,141.9 266.9,156.5 267.4,146.5 267.9,156.4 268.4,145.1 268.9,159.1 269.4,144.1 269.9,159.3 270.4,143.7 270.9,159.6 271.4,143.9 271.9,159.3 272.4,141.8 272.9,159.2 273.4,142.5 273.9,158.3 274.4,145.5 274.9,159.6 275.4,140.5 275.9,159.6 276.4,139.6 276.9,157.1 277.4,143.0 277.9,157.4 278.4,139.7 278.9,157.1 279.4,141.4 279.9,158.1 280.4,142.3 280.9,158.0 281.4,140.5 281.9,154.7 282.4,139.4 282.9,161.4 283.4,141.4 283.9,155.6 284.4,142.6 284.9,158.6 285.4,142.2 285.9,156.4 286.4,138.2 286.9,160.5 287.4,138.0 287.9,159.0 288.4,138.2 288.9,155.9 289.5,139.0 290.0,154.7 290.5,141.6 291.0,156.5 291.5,145.3 292.0,155.7 292.5,139.1 293.0,154.3 293.5,140.5 294.0,158.4 294.5,139.9 295.0,156.4 295.5,142.9 296.0,154.9 296.5,139.9 297.0,158.3 297.5,141.5 298.0,157.5 298.5,142.8 299.0,158.6 299.5,138.5 300.0,159.0 300.5,138.1 301.0,157.7 301.5,139.5 302.0,158.3 302.5,140.7 303.0,158.8 303.5,141.4 304.0,157.2 304.5,140.4 305.0,158.8 305.5,140.7 306.0,159.3 306.5,142.6 307.0,158.8 307.5,136.0 308.0,157.1 308.5,137.5 309.0,157.3 309.5,141.6 310.0,156.6 310.5,140.0 311.0,154.3 311.5,141.5 312.0,156.3 312.5,144.1 313.0,158.5 313.5,141.7 314.0,158.2 314.5,139.4 315.0,158.1 315.5,137.5 316.0,155.7 316.5,139.4 317.0,159.2 317.6,139.4 318.1,158.7 318.6,138.1 319.1,159.4 319.6,137.6 320.1,156.2 320.6,142.2 321.1,159.6 321.6,142.7 322.1,160.9 322.6,144.0 323.1,159.0 323.6,141.9 324.1,156.0 324.6,141.2 325.1,156.7 325.6,140.9 326.1,155.6 326.6,141.3 327.1,159.8 327.6,143.5 328.1,163.6 328.6,139.7 329.1,161.5 329.6,142.8 330.1,162.5 330.6,141.9 331.1,160.4 331.6,142.5 332.1,160.6 332.6,142.7 333.1,160.6 333.6,143.9 334.1,160.2 334.6,143.4 335.1,159.0 335.6,143.9 336.1,160.7 336.6,134.7 337.1,159.7 337.6,139.5 338.1,160.1 338.6,141.1 339.1,161.5 339.6,138.6 340.1,158.4 340.6,142.9 341.1,158.0 341.6,142.5 342.1,155.7 342.6,139.4 343.1,160.3 343.6,139.4 344.1,158.3 344.6,142.7 345.1,154.9 345.7,140.4 346.2,157.0 346.7,142.7 347.2,159.0 347.7,137.7 348.2,160.6 348.7,141.0 349.2,158.5 349.7,141.1 350.2,160.6 350.7,141.1 351.2,165.7 351.7,142.6 352.2,160.2 352.7,143.7 353.2,159.7 353.7,143.9 354.2,158.8 354.7,142.7 355.2,157.9 355.7,139.7 356.2,156.5 356.7,139.2 357.2,153.8 357.7,142.5 358.2,157.0 358.7,140.3 359.2,160.6 359.7,138.7 360.2,156.9 360.7,142.9 361.2,159.5 361.7,145.3 362.2,160.9 362.7,144.6 363.2,160.1 363.7,143.0 364.2,155.5 364.7,142.9 365.2,159.6 365.7,143.3 366.2,161.7 366.7,141.8 367.2,155.5 367.8,172.0 369.7,416.2 371.8,288.5 372.1,295.6 372.6,299.7 373.1,295.4 373.6,301.6 374.1,296.2 374.6,303.6 375.1,298.1 375.6,305.6 376.1,296.6 376.6,309.5 377.1,299.0 377.6,306.8 378.1,298.7 378.6,310.9 379.1,297.3 379.6,315.3 380.1,298.6 380.6,312.8 381.1,297.4 381.6,312.3 382.1,299.8 382.6,310.5 383.2,296.9 383.7,310.2 384.2,295.9 384.7,309.1 385.2,296.8 385.7,310.0 386.2,299.1 386.7,309.5 387.2,301.1 387.7,309.7 388.2,294.3 388.7,311.6 389.2,297.1 389.7,312.7 390.2,296.9 390.7,313.6 391.2,296.5 391.7,315.5 392.2,297.5 392.7,312.0 393.2,300.3 393.7,311.7 394.2,299.2 394.7,312.6 395.2,298.2 395.7,309.6 396.2,298.6 396.7,312.1 397.2,300.3 397.7,310.0 398.2,296.6 398.7,311.5 399.2,296.9 399.7,313.0 400.2,298.9 400.7,311.1 401.2,298.2 401.7,310.3 402.2,298.6 402.7,311.0 403.2,296.5 403.7,307.7 404.2,295.6 404.7,311.0 405.2,295.9 405.7,310.7 406.2,297.0 406.7,311.3 407.2,295.5 407.7,311.4 408.2,295.5 408.7,310.8 409.2,296.8 409.7,309.5 410.2,297.0 410.7,308.7 411.2,295.4 411.7,311.1 412.2,297.2 412.7,310.8 413.2,295.6 413.7,313.8 414.2,296.5 414.7,317.5 415.2,299.7 415.7,312.4 416.2,296.7 416.7,309.1 417.2,298.5 417.8,311.3 418.3,296.6 418.8,310.6 419.3,297.5 419.8,312.9 420.3,300.4 420.8,312.7 421.3,297.5 421.8,311.9 422.3,297.6 422.8,311.3 423.3,295.6 423.8,311.5 424.3,296.4 424.8,312.6 425.3,296.8 425.8,312.9 426.3,298.8 426.8,311.7 427.3,300.6 427.8,312.0 428.3,297.6 428.8,313.0 429.3,299.2 429.8,313.5 430.3,296.2 430.8,311.6 431.3,296.7 431.8,310.0 432.3,299.1 432.8,309.1 433.3,293.7 433.8,309.7 434.3,295.8 434.8,308.4 435.3,296.4 435.8,307.0 436.3,296.6 436.8,309.0 437.3,295.5 437.8,310.3 438.3,296.1 438.8,310.1 439.3,298.7 439.8,309.8 440.3,296.2 440.8,307.7 441.3,295.4 441.8,311.4 442.3,295.3 442.8,312.5 443.3,298.4 443.8,312.1 444.3,296.5 444.8,310.7 445.3,299.6 445.8,310.1 446.3,299.6 446.8,312.0 447.3,296.6 447.8,311.3 448.3,298.3 448.8,311.3 449.3,298.3 449.8,313.1 450.3,300.1 450.8,312.6 451.3,296.0 451.8,312.7 452.3,300.7 452.9,312.6 453.4,297.5 453.9,309.1 454.4,299.6 454.9,309.0 455.4,297.2 455.9,310.9 456.4,295.9 456.9,310.3 457.4,297.8 457.9,310.7 458.4,296.8 458.9,309.6 459.4,292.1 459.9,310.2 460.4,293.3 460.9,308.2 461.4,292.0 461.9,309.9 462.4,293.7 462.9,307.5 463.4,294.0 463.9,308.8 464.4,294.0 464.9,310.9 465.4,293.5 465.9,311.9 466.4,293.6 466.9,311.0 467.4,296.4 467.9,312.0 468.4,295.4 468.9,310.0 469.4,297.5 469.9,310.8 470.4,296.8 470.9,310.7 471.4,298.7 471.9,310.1 472.4,297.2 472.9,310.4 473.4,296.6 473.9,310.2 474.4,295.9 474.9,307.0 475.4,296.4 475.9,308.8 476.4,297.5 476.9,309.6 477.4,296.5 477.9,310.0 478.4,297.9 478.9,311.7 479.4,297.2 479.9,309.7 480.4,295.6 480.9,310.3 481.4,295.0 481.9,311.8 482.4,297.5 482.9,314.5 483.4,297.9 483.9,311.3 484.4,297.0 484.9,309.8 485.4,295.7 485.9,308.2 486.4,297.6 486.9,311.6 487.5,297.9 488.0,312.0 488.5,294.6 489.0,309.3 489.5,295.5 490.0,311.0 490.5,298.1 491.0,309.6 491.5,295.5 492.0,309.7 492.5,294.8 493.0,310.5 493.5,298.3 494.0,309.5 494.5,299.6 495.0,307.2 495.5,298.2 496.0,309.7 496.5,294.9 497.0,307.0 497.5,300.1 498.0,310.2 498.5,297.4 499.0,311.0 499.5,296.2 500.0,310.1 500.5,297.4 501.0,311.8 501.5,297.3 502.0,313.4 502.5,297.2 503.0,313.0 503.5,296.2 504.0,313.0 504.5,298.8 505.0,314.8 505.5,296.5 506.0,312.7 506.5,298.9 507.0,313.1 507.5,297.1 508.0,312.9 508.5,296.3 509.0,312.5 509.5,295.1 510.0,313.4 510.5,296.0 511.0,312.8 511.5,299.1 512.0,312.7 512.5,296.1 513.0,312.1 513.5,297.4 514.0,311.9 514.5,297.3 515.0,309.9 515.5,295.6 516.0,310.3 516.5,294.7 517.0,312.9 517.5,296.1 518.0,311.9 518.5,295.3 519.0,311.9 519.5,296.1 520.0,313.4 520.5,297.1 521.0,310.7 521.5,292.8 522.1,312.1 522.6,293.2 523.1,312.3 523.6,298.0 524.1,313.2 524.6,296.1 525.1,310.8 525.6,296.5 526.1,313.2 526.6,297.6 527.1,310.0 527.6,297.3 528.1,312.8 528.6,296.4 529.1,310.5 529.6,298.5 530.1,313.6 530.6,296.9 531.1,310.0 531.6,297.2 532.1,311.0 532.6,297.9 533.1,308.1 533.6,296.3 534.1,308.2 534.6,297.2 535.1,311.3 535.6,296.9 536.1,313.5 536.6,297.6 537.1,317.8 537.6,297.8 538.1,313.3 538.6,296.2 539.1,311.3 539.6,294.4 540.1,310.9 540.6,295.8 541.1,308.5 541.6,297.2 542.1,309.4 542.6,299.1 543.1,312.5 543.6,296.5 544.1,312.0 544.6,293.5 545.1,310.7 545.6,294.2 546.1,310.2 546.6,295.1 547.1,311.2 547.6,293.7 548.1,313.9 548.6,291.8 549.1,309.7 549.6,292.5 550.1,313.0 550.6,292.3 551.1,312.6 551.6,294.5 552.1,311.2 552.6,294.7 553.1,310.2 553.6,290.6 554.1,313.6 554.6,289.3 555.1,312.6 555.6,291.1 556.1,313.1 556.6,297.1 557.2,316.8 557.7,293.9 558.2,311.4 558.7,294.3 559.2,309.6 559.7,295.9 560.2,309.2 560.7,297.5 561.2,310.6 561.7,298.3 562.2,312.7 562.7,296.1 563.2,314.6 563.7,299.0 564.2,310.6 564.7,297.1 565.2,310.3 565.7,296.0 566.2,308.5 566.7,296.0 567.2,309.6 567.7,298.2 568.2,312.4 568.7,295.7 569.2,310.2 569.7,295.4 570.2,311.7 570.7,295.3 571.2,312.1 571.7,294.4 572.2,309.7 572.7,296.5 573.2,309.2 573.7,296.5 574.2,309.3 574.7,299.5 575.2,307.9 575.7,296.6 576.2,309.0 576.7,295.9 577.2,307.4 577.7,297.8 578.2,306.3 578.7,301.2 579.2,311.2 579.7,301.4 580.2,312.2 580.7,297.2 581.2,309.0 581.7,298.6 582.2,309.6 582.7,295.8 583.2,311.0 583.7,299.1 584.2,313.3 584.7,299.6 585.2,310.6 585.7,298.1 586.2,309.8 586.7,298.5 587.2,310.7 587.7,299.6 588.2,310.8 588.7,299.4 589.2,310.3 589.7,298.5 590.2,312.0 590.7,298.3 591.2,312.1 591.8,298.2 592.3,312.6 592.8,298.2 593.3,311.5 593.8,298.1 594.3,312.8 594.8,299.3 595.3,311.6 595.8,296.5 596.3,312.4 596.8,299.6 597.3,311.7 597.8,299.9 598.3,314.7 598.8,295.4 599.3,308.6 599.8,295.5 600.3,310.6 600.8,296.8 601.3,312.0 601.8,295.8 602.3,312.1 602.8,296.1 603.3,312.2 603.8,296.8 604.3,311.3 604.8,296.4 605.3,310.4 605.8,293.9 606.3,310.1 606.8,294.9 607.3,308.4 607.8,295.0 608.3,309.8 608.8,298.4 609.3,310.0 609.8,298.1 610.3,309.7 610.8,295.3 611.3,310.9 611.8,296.5 612.3,313.2 612.8,294.4 613.3,311.4 613.8,294.9 614.3,311.3 614.8,293.6 615.3,311.9 615.8,297.3 616.3,312.5 616.8,297.3 617.3,313.9 617.8,299.5 618.3,313.2 618.8,297.5 619.3,313.7 619.8,295.8 620.3,310.9 620.8,295.7 621.3,309.0 621.8,299.2 622.3,314.5 622.8,299.1 623.3,311.1 623.8,298.2 624.3,307.7 624.8,297.6 625.3,310.4 625.8,298.8 626.4,308.5 626.9,296.8 627.4,311.6 627.9,295.4 628.4,312.9 628.9,296.0 629.4,311.7 629.9,294.8 630.4,310.1 630.9,294.2 631.4,311.1 631.9,299.2 632.4,307.2 632.9,297.4 633.4,309.1 633.9,297.1 634.4,312.0 634.9,297.5 635.4,310.2 635.9,299.7 636.4,311.0 636.9,299.1 637.4,309.6 637.9,296.5 638.4,310.3 638.9,293.3 641.1,188.2 642.7,231.9 643.0,226.8 643.5,242.0 644.0,228.9 644.5,240.7 645.0,225.8 645.5,241.3 646.0,227.0 646.5,242.3 647.0,229.1 647.5,246.8 648.0,230.8 648.5,248.2 649.0,233.9 649.5,248.8 650.0,233.0 650.5,247.0 651.0,232.9 651.5,243.9 652.0,233.2 652.5,245.7 653.0,232.4 653.5,247.6 654.0,232.8 654.5,247.6 655.0,236.4 655.5,249.2 656.0,234.8 656.5,248.5 657.0,233.0 657.5,247.0 658.0,233.1 658.5,246.5 659.0,233.1 659.5,245.7 660.1,233.1 660.6,245.5 661.1,232.4 661.6,245.1 662.1,233.0 662.6,247.0 663.1,231.9 663.6,247.6 664.1,231.0 664.6,247.4 665.1,232.5 665.6,246.1 666.1,230.1 666.6,247.6 667.1,233.0 667.6,249.8 668.1,231.1 668.6,243.6 669.1,230.3 669.6,246.0 670.1,230.8 670.6,246.3 671.1,229.0 671.6,250.3 672.1,230.7 672.6,249.7 673.1,232.5 673.6,246.4 674.1,229.6 674.6,247.9 675.1,230.7 675.6,247.8 676.1,231.7 676.6,246.6 677.1,234.0 677.6,245.9 678.1,232.3 678.6,248.1 679.1,232.5 679.6,246.4 680.1,231.8 680.6,246.5 681.1,231.3 681.6,246.8 682.1,231.9 682.6,246.1 683.1,231.0 683.6,246.5 684.1,232.4 684.6,247.8 685.1,232.4 685.6,246.3 686.1,234.9 686.6,251.8 687.1,232.0 687.6,248.8 688.1,231.6 688.6,250.2 689.1,232.6 689.6,252.1 690.1,232.4 690.6,250.4 691.1,232.0 691.6,248.2 692.1,230.6 692.6,247.9 693.1,235.5 693.6,248.8 694.1,235.7 694.6,248.9 695.1,228.5 695.6,249.3 696.1,234.4 696.7,247.4 697.2,232.9 697.7,246.3 698.2,234.3 698.7,247.9 699.2,230.9 699.7,244.0 700.2,231.1 700.7,245.2 701.2,232.2 701.7,246.1 702.2,235.5 702.7,246.9 703.2,232.9 703.7,247.5 704.2,235.0 704.7,247.4 705.2,233.5 705.7,247.0 706.2,232.4 706.7,251.1 707.2,232.5 707.7,250.7 708.2,233.0 708.7,244.5 709.2,231.3 709.7,252.4 710.2,231.4 710.7,248.9 711.2,233.4 711.7,248.1 712.2,233.4 712.7,246.0 713.2,233.3 713.7,248.3 714.2,235.7 714.7,244.6 715.2,232.9 715.7,246.6 716.2,233.6 716.7,247.8 717.2,230.2 717.7,251.1 718.2,232.4 718.7,245.4 719.2,232.8 719.7,247.7 720.2,233.0 720.7,250.1 721.2,234.6 721.7,252.3 722.2,233.2 722.7,249.7 723.2,232.8 723.7,248.6 724.2,231.1 724.7,248.9 725.2,232.6 725.7,248.9 726.2,231.1 726.7,246.8 727.2,229.3 727.7,248.2 728.2,230.6 728.7,250.5 729.2,230.9 729.7,248.2 730.2,234.3 730.7,248.1 731.2,229.6 731.7,245.7 732.2,231.2 732.7,250.2 733.3,230.2 733.8,244.8 734.3,230.2 734.8,244.5 735.3,231.1 735.8,248.3 736.3,228.8 736.8,244.0 737.3,232.5 737.8,246.9 738.3,233.0 738.8,248.6 739.3,233.9 739.8,246.8 740.3,233.5 740.8,244.5 741.3,230.3 741.8,247.5 742.3,232.7 742.8,247.1 743.3,235.3 743.8,247.6 744.3,236.4 744.8,245.4 745.3,234.8 745.8,247.2 746.3,231.7 746.8,243.9 747.3,232.2 747.8,245.9 748.3,235.1 748.8,249.7 749.3,233.9 749.8,247.1 750.3,231.4 750.8,247.9 751.3,231.1 751.8,247.2 752.3,230.4 752.8,246.3 753.3,230.9 753.8,243.9 754.3,231.8 754.8,246.8 755.3,233.4 755.8,250.8 756.3,230.5 756.8,248.4 757.3,230.2 757.8,249.8 758.3,229.2 758.8,248.9 759.3,231.2 759.8,249.9 760.3,231.6 760.8,248.5 761.3,234.8 761.8,248.0 762.3,234.6 762.8,250.1 763.3,232.5 763.8,245.7 764.3,233.9 764.8,248.4 765.3,234.4 765.8,247.9 766.3,235.1 766.8,248.7 767.3,234.4 767.8,249.9 768.3,231.2 768.8,251.3 769.3,233.8 769.9,250.4 770.4,233.0 770.9,246.3 771.4,233.0 771.9,248.1 772.4,234.8 772.9,247.3 773.4,232.9 773.9,250.4 774.4,232.4 774.9,248.8 775.4,231.8 775.9,250.0 776.4,233.1 776.9,249.4 777.4,232.0 777.9,250.3 778.4,231.9 778.9,246.5 779.4,232.6 779.9,246.5 780.4,232.9 780.9,244.5 781.4,232.6 781.9,246.5 782.4,232.0 782.9,244.8 783.4,231.3 783.9,246.0 784.4,231.9 784.9,247.0 785.4,232.1 785.9,248.2 786.4,231.6 786.9,248.5 787.4,232.6 787.9,246.3 788.4,232.9 788.9,248.3 789.4,234.6 789.9,245.1 790.4,233.9 790.9,245.9 791.4,235.5 791.9,248.4 792.4,234.5 792.9,248.8 793.4,234.3 793.9,246.1 794.4,234.3 794.9,247.4 795.4,236.2 795.9,249.9 796.4,232.5 796.9,248.9 797.4,230.6 797.9,249.4 798.4,231.7 798.9,249.1 799.4,235.9 799.9,247.6 800.4,236.4 800.9,248.6 801.4,236.1 801.9,248.2 802.4,234.8 802.9,247.7 803.4,232.2 803.9,248.6 804.4,233.5 804.9,247.5 805.4,232.9 805.9,249.2 806.5,233.6 807.0,249.6 807.5,232.8 808.0,244.9 808.5,232.2 809.0,246.1 809.5,232.7 810.0,241.9 810.5,230.5 811.0,244.2 811.5,229.3 812.0,247.6 812.5,228.5 813.0,249.3 813.5,232.0 814.0,248.2 814.5,232.5 815.0,247.7 815.5,233.3 816.0,249.3 816.5,234.3 817.0,247.5 817.5,232.7 818.0,247.4 818.5,233.0 819.0,247.5 819.5,234.3 820.0,249.9 820.5,232.7 821.0,249.0 821.5,233.9 822.0,248.6 822.5,235.2 823.0,247.2 823.5,234.1 824.0,244.3 824.5,236.5 825.0,247.4 825.5,237.7 826.0,248.6 826.5,234.3 827.0,247.6 827.5,235.2 828.0,245.0 828.5,233.5 829.0,249.1 829.5,233.3 830.0,249.5 830.5,233.3 831.0,248.3 831.5,236.5 832.0,245.1 832.5,234.6 833.0,249.5 833.5,234.2 834.0,249.4 834.5,233.5 835.0,249.3 835.5,233.1 836.0,246.1 836.5,233.1 837.0,251.1 837.5,235.5 838.0,245.2 838.5,231.6 839.0,246.4 839.5,234.1 840.0,249.1 840.5,230.7 841.0,247.6 841.5,233.3 842.0,247.6 842.5,234.0 843.1,247.6 843.6,233.0 844.1,248.1 844.6,229.7 845.1,248.5 845.6,229.3 846.1,248.0 846.6,227.9 847.1,246.7 847.6,231.6 848.1,245.7 848.6,229.5 849.1,245.6 849.6,229.0 850.1,247.8 850.6,229.2 851.1,247.0 851.6,231.1 852.1,248.8 852.6,233.3 853.1,248.9 853.6,233.1 854.1,247.4 854.6,236.9 855.1,246.3 855.6,235.2 856.1,249.9 856.6,231.8 857.1,246.6 857.6,234.7 858.1,248.9 858.6,231.2 859.1,245.3 859.6,231.2 860.1,248.9 860.6,236.3 861.1,249.4 861.6,234.0 862.1,245.9 862.6,235.2 863.1,248.2 863.6,234.5 864.1,247.4 864.6,232.8 865.1,248.9 865.6,234.2 866.1,246.4 866.6,232.3 867.1,246.4 867.6,232.1 868.1,248.0 868.6,231.0 869.1,246.7 869.6,230.1 870.1,248.4 870.6,231.4 871.1,247.6 871.6,233.8 872.1,248.6 872.6,231.9 873.1,246.0 873.6,230.8 874.1,245.0 874.6,234.1 875.1,246.8 875.6,230.8 876.1,248.2 876.6,230.3 877.1,246.0 877.6,231.4 878.1,246.5 878.6,231.8 879.1,248.5 879.7,233.5 880.2,247.4 880.7,235.0 881.2,249.3 881.7,233.2 882.2,246.9 882.7,232.3 883.2,248.9 883.7,233.6 884.2,249.5 884.7,235.0 885.2,249.3 885.7,232.8 886.2,248.8 886.7,233.1 887.2,248.7 887.7,232.4 888.2,247.7 888.7,231.3 889.2,244.9 889.7,231.7 890.2,246.4 890.7,230.8 891.2,245.2 891.7,234.2 892.2,242.1 892.7,233.4 893.2,244.3 893.7,231.3 894.2,246.4 894.7,229.2 895.2,246.4 895.7,229.2 896.2,244.2 896.7,228.7 897.2,245.5 897.7,230.3 898.2,246.2 898.7,232.7 899.2,247.5 899.7,235.2 900.2,245.5 900.7,233.5 901.2,247.8 901.7,231.3 902.2,245.2 902.7,234.8 903.2,245.4 903.7,228.4 904.2,247.2 904.7,232.7 905.2,246.7 905.7,232.4 906.2,249.6 906.7,231.6 907.2,247.9 907.7,233.2 908.2,245.2 908.7,232.6 909.2,246.7 909.7,232.1 910.2,248.9 910.7,229.9 911.2,246.9 911.7,231.7 912.2,245.7 912.7,232.6 913.2,247.6 913.7,231.4 914.2,247.0 914.7,234.9 915.2,247.5 915.7,233.8 916.3,246.3 916.8,233.6 917.3,249.6 917.8,232.7 918.3,248.2 918.8,233.7 919.3,248.1 919.8,231.7 920.3,246.5 920.8,232.7 921.3,247.8 921.8,231.8 922.3,246.6 922.8,232.0 923.3,244.5 923.8,232.5 924.3,245.5 924.8,234.7 925.3,247.3 925.8,234.5 926.3,248.1 926.8,232.8 927.3,247.8 927.8,232.6 928.3,247.3 928.8,230.9 929.3,249.3 929.8,236.3 930.3,248.9 930.8,232.6 931.3,249.3 931.8,231.5 932.3,249.7 932.8,233.7 933.3,249.4 933.8,232.1 934.3,248.3 934.8,232.3 935.3,250.9 935.8,234.2 936.3,248.9 936.8,232.8 937.3,248.5 937.8,232.6 938.3,247.9 938.8,234.2 939.3,247.4 939.8,233.6 940.3,249.8 940.8,231.9 941.3,244.6 941.8,234.6 942.3,249.3 942.8,232.8 943.3,247.6 943.8,232.4 944.3,248.3 944.8,233.7 945.3,245.5 945.8,230.7 946.3,247.8 946.8,233.0 947.3,246.9 947.8,232.5 948.3,248.2 948.8,230.5 949.3,243.5 949.8,230.1 950.3,244.3 950.8,228.6 951.3,243.5 951.8,229.0 952.3,244.0 952.9,233.6 953.4,245.1 953.9,234.9 954.4,247.1 954.9,231.4 955.4,248.3 955.9,230.7 956.4,246.8 956.9,231.3 957.4,249.7 957.9,231.1 958.4,250.3 958.9,234.3 959.4,250.4 959.9,229.2 960.4,247.8 960.9,232.2 961.4,247.1 961.9,231.6 962.4,245.8 962.9,231.1 963.4,250.6 963.9,232.0"/>
<path stroke="#a2142f" stroke-width="3.3" d="M112.8 166.6V170.3M118.5 159.7V163.3M122.7 162.6V165.7M127.3 143.6V140.5M132.1 166.5V170.1M136.2 164.2V167.7M143.8 162.1V165.7M149.8 162.5V166.1M155.2 162.3V165.5M159.9 142.7V139.3M167.5 158.2V161.4M173.4 165.0V168.3M180.8 139.5V136.2M187.2 163.0V166.1M193.9 159.0V162.5M200.1 160.4V163.8M205.9 159.8V163.2M214.1 159.5V162.8M219.9 159.7V163.3M224.7 157.3V160.9M230.7 162.2V165.9M234.8 159.9V163.6M239.2 137.2V133.9M246.1 160.8V163.9M251.9 139.5V136.4M257.1 160.8V164.1M264.1 163.4V167.0M271.6 159.4V162.7M275.3 159.4V162.6M281.7 161.2V164.6M287.3 160.3V164.0M290.9 156.3V159.4M296.0 158.1V161.3M304.0 159.1V162.3M313.0 158.3V161.5M321.4 160.7V164.1M328.6 163.4V166.6M332.6 160.4V163.6M341.3 160.1V163.6M347.1 160.4V164.0M351.8 165.5V168.7M356.7 160.4V163.7M382.1 296.1V292.2M385.9 310.0V315.2M389.7 315.3V318.8M397.0 296.8V293.5M402.2 310.9V315.7M409.6 295.6V292.3M417.4 312.2V317.3M422.6 312.5V316.2M430.8 313.3V318.1M435.2 309.5V312.9M440.2 311.2V314.8M448.1 296.8V293.0M453.5 312.5V317.0M458.0 292.3V288.0M466.7 311.8V317.0M475.7 310.0V315.2M483.3 314.3V318.5M492.3 295.0V290.5M500.3 313.2V318.6M504.5 314.6V319.2M508.5 313.2V318.2M516.4 294.9V290.5M521.8 313.2V317.8M526.2 313.0V318.2M530.5 313.4V317.4M534.1 313.3V317.6M539.4 313.1V317.1M543.5 293.7V289.5M547.6 313.7V317.2M554.8 316.6V320.7M560.6 312.5V316.0M565.6 310.4V315.3M573.1 311.9V316.3M578.2 296.1V292.0M586.9 310.6V314.6M592.2 298.3V293.9M599.4 314.5V318.8M607.7 295.1V290.9M616.0 313.7V318.0M620.3 295.9V292.2M625.7 295.6V291.7M632.8 297.3V292.8M646.0 246.6V250.0M654.6 232.6V228.6M659.9 246.8V252.4M668.8 249.6V255.2M677.7 247.9V252.7M681.5 246.6V251.9M686.6 251.6V255.8M692.5 250.2V254.6M696.2 249.1V253.3M701.9 247.3V250.9M709.0 252.2V257.7M716.2 250.9V256.0M722.4 252.1V256.1M726.1 248.7V253.7M731.1 250.0V255.3M738.3 248.4V253.8M746.8 249.5V254.0M750.7 249.5V255.0M755.6 250.6V255.1M762.8 249.9V254.1M769.7 251.1V256.0M776.3 250.1V255.6M783.0 246.8V252.1M790.9 248.6V254.2M797.6 249.7V254.5M803.7 249.0V253.4M807.2 249.4V253.1M812.0 249.1V253.8M820.4 249.7V253.3M827.5 248.9V253.2M835.8 250.9V256.3M840.2 248.9V252.8M844.7 248.3V253.9M850.0 229.2V225.4M857.8 249.7V254.8M863.9 248.7V254.1M868.9 248.2V252.2M874.6 248.0V252.5M882.4 249.3V254.7M889.7 247.5V252.2M897.8 228.9V225.4M903.2 247.0V250.6M911.6 248.7V253.0M915.7 249.4V253.5M924.3 232.2V228.7M928.3 231.1V226.8M934.5 250.7V255.7M938.7 249.6V253.5M944.5 248.1V252.3M948.2 248.0V252.2M954.9 249.5V254.5"/>
</g>
<text transform="translate(81.3,668.3) scale(1.01,1)" text-anchor="end" style="font-size:32px">-30</text>
<text transform="translate(81.3,587.4) scale(1.01,1)" text-anchor="end" style="font-size:32px">-20</text>
<text transform="translate(81.3,506.6) scale(1.01,1)" text-anchor="end" style="font-size:32px">-10</text>
<text transform="translate(81.3,425.7) scale(1.01,1)" text-anchor="end" style="font-size:32px">0</text>
<text transform="translate(81.3,344.8) scale(1.01,1)" text-anchor="end" style="font-size:32px">10</text>
<text transform="translate(81.3,264.0) scale(1.01,1)" text-anchor="end" style="font-size:32px">20</text>
<text transform="translate(81.3,183.1) scale(1.01,1)" text-anchor="end" style="font-size:32px">30</text>
<text transform="translate(81.3,102.3) scale(1.01,1)" text-anchor="end" style="font-size:32px">40</text>
<text transform="translate(81.3,21.4) scale(1.01,1)" text-anchor="end" style="font-size:32px">50</text>
<text transform="translate(95.3,697.5) scale(1.01,1)" text-anchor="middle" style="font-size:32px">0</text>
<text transform="translate(367.0,697.5) scale(1.01,1)" text-anchor="middle" style="font-size:32px">0.5</text>
<text transform="translate(638.7,697.5) scale(1.01,1)" text-anchor="middle" style="font-size:32px">1</text>
<text transform="translate(910.4,697.5) scale(1.01,1)" text-anchor="middle" style="font-size:32px">1.5</text>
<text transform="translate(528.3,734.6) scale(1.087,1)" text-anchor="middle">Time (s)</text>
<text transform="translate(21.2,333.6) scale(1.03,1) rotate(-90)" style="font-size:30.8px" text-anchor="middle">Torque (N/m)</text>
<rect x="702.9" y="12.5" width="258.5" height="152.2" fill="#fff" stroke="#1c1c1c" stroke-width="1.3"/>
<line x1="710.6" y1="34.0" x2="791.3" y2="34.0" stroke="#0000ff" stroke-width="5.6"/>
<text transform="translate(797.3,44.2) scale(1.076,1)" text-anchor="start">P&amp;O</text>
<line x1="710.6" y1="70.6" x2="791.3" y2="70.6" stroke="#ff0000" stroke-width="5.6"/>
<text transform="translate(797.3,80.5) scale(1.076,1)" text-anchor="start">Fuzzy</text>
<line x1="710.6" y1="107.0" x2="791.3" y2="107.0" stroke="#00ff00" stroke-width="5.6"/>
<text transform="translate(797.3,116.1) scale(1.076,1)" text-anchor="start">Fuzzy-GA</text>
<line x1="710.6" y1="144.0" x2="791.3" y2="144.0" stroke="#a2142f" stroke-width="5.6"/>
<text transform="translate(797.3,153.5) scale(1.076,1)" text-anchor="start">Fuzzy-PSO</text>
</svg>
</body></html>
